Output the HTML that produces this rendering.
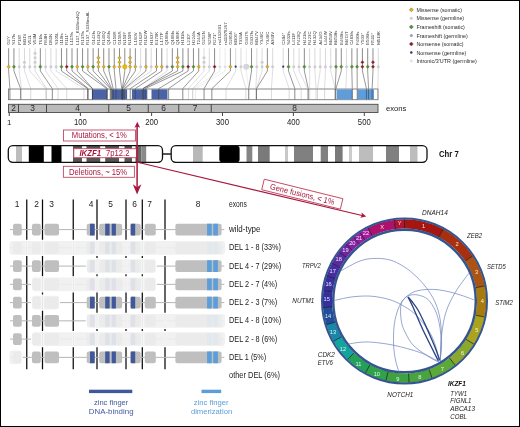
<!DOCTYPE html>
<html><head><meta charset="utf-8"><style>html,body{margin:0;padding:0;background:#fff;}svg{display:block;will-change:transform;}</style></head>
<body><svg width="520" height="427" viewBox="0 0 520 427" font-family="Liberation Sans, sans-serif">
<rect x="0" y="0" width="520" height="427" fill="#fff"/>
<rect x="8.5" y="89" width="369.5" height="10.7" fill="#fff" stroke="#7a7a7a" stroke-width="0.9"/>
<rect x="91.9" y="89.4" width="15.00" height="9.9" fill="#4a63a6"/>
<rect x="111.7" y="89.4" width="15.40" height="9.9" fill="#4a63a6"/>
<rect x="131.9" y="89.4" width="15.40" height="9.9" fill="#4a63a6"/>
<rect x="151.5" y="89.4" width="16.00" height="9.9" fill="#4a63a6"/>
<rect x="337" y="89.4" width="15.50" height="9.9" fill="#5d9ddb"/>
<rect x="357.5" y="89.4" width="16.50" height="9.9" fill="#5d9ddb"/>
<line x1="9.92" y1="89" x2="9.92" y2="99.5" stroke="rgba(60,60,60,0.75)" stroke-width="0.8"/>
<line x1="20.60" y1="89" x2="20.60" y2="99.5" stroke="rgba(60,60,60,0.75)" stroke-width="0.8"/>
<line x1="21.32" y1="89" x2="21.32" y2="99.5" stroke="rgba(140,140,150,0.42)" stroke-width="0.8"/>
<line x1="30.69" y1="89" x2="30.69" y2="99.5" stroke="rgba(140,140,150,0.42)" stroke-width="0.8"/>
<line x1="45.82" y1="89" x2="45.82" y2="99.5" stroke="rgba(140,140,150,0.42)" stroke-width="0.8"/>
<line x1="46.54" y1="89" x2="46.54" y2="99.5" stroke="rgba(140,140,150,0.42)" stroke-width="0.8"/>
<line x1="52.30" y1="89" x2="52.30" y2="99.5" stroke="rgba(60,60,60,0.75)" stroke-width="0.8"/>
<line x1="58.07" y1="89" x2="58.07" y2="99.5" stroke="rgba(140,140,150,0.42)" stroke-width="0.8"/>
<line x1="66.71" y1="89" x2="66.71" y2="99.5" stroke="rgba(140,140,150,0.42)" stroke-width="0.8"/>
<line x1="83.96" y1="89" x2="83.96" y2="99.5" stroke="rgba(140,140,150,0.42)" stroke-width="0.8"/>
<line x1="87.52" y1="89" x2="87.52" y2="99.5" stroke="rgba(60,60,60,0.75)" stroke-width="0.8"/>
<line x1="88.23" y1="89" x2="88.23" y2="99.5" stroke="rgba(60,60,60,0.75)" stroke-width="0.8"/>
<line x1="92.50" y1="89" x2="92.50" y2="99.5" stroke="rgba(60,60,60,0.75)" stroke-width="0.8"/>
<line x1="92.50" y1="89" x2="92.50" y2="99.5" stroke="rgba(60,60,60,0.75)" stroke-width="0.8"/>
<line x1="106.74" y1="89" x2="106.74" y2="99.5" stroke="rgba(60,60,60,0.75)" stroke-width="0.8"/>
<line x1="107.46" y1="89" x2="107.46" y2="99.5" stroke="rgba(60,60,60,0.75)" stroke-width="0.8"/>
<line x1="110.30" y1="89" x2="110.30" y2="99.5" stroke="rgba(60,60,60,0.75)" stroke-width="0.8"/>
<line x1="111.02" y1="89" x2="111.02" y2="99.5" stroke="rgba(60,60,60,0.75)" stroke-width="0.8"/>
<line x1="111.73" y1="89" x2="111.73" y2="99.5" stroke="rgba(60,60,60,0.75)" stroke-width="0.8"/>
<line x1="113.15" y1="89" x2="113.15" y2="99.5" stroke="rgba(60,60,60,0.75)" stroke-width="0.8"/>
<line x1="116.00" y1="89" x2="116.00" y2="99.5" stroke="rgba(60,60,60,0.75)" stroke-width="0.8"/>
<line x1="121.70" y1="89" x2="121.70" y2="99.5" stroke="rgba(60,60,60,0.75)" stroke-width="0.8"/>
<line x1="122.41" y1="89" x2="122.41" y2="99.5" stroke="rgba(60,60,60,0.75)" stroke-width="0.8"/>
<line x1="122.41" y1="89" x2="122.41" y2="99.5" stroke="rgba(60,60,60,0.75)" stroke-width="0.8"/>
<line x1="123.12" y1="89" x2="123.12" y2="99.5" stroke="rgba(60,60,60,0.75)" stroke-width="0.8"/>
<line x1="124.54" y1="89" x2="124.54" y2="99.5" stroke="rgba(140,140,150,0.42)" stroke-width="0.8"/>
<line x1="124.54" y1="89" x2="124.54" y2="99.5" stroke="rgba(60,60,60,0.75)" stroke-width="0.8"/>
<line x1="125.26" y1="89" x2="125.26" y2="99.5" stroke="rgba(140,140,150,0.42)" stroke-width="0.8"/>
<line x1="130.24" y1="89" x2="130.24" y2="99.5" stroke="rgba(60,60,60,0.75)" stroke-width="0.8"/>
<line x1="135.22" y1="89" x2="135.22" y2="99.5" stroke="rgba(60,60,60,0.75)" stroke-width="0.8"/>
<line x1="143.06" y1="89" x2="143.06" y2="99.5" stroke="rgba(140,140,150,0.42)" stroke-width="0.8"/>
<line x1="143.06" y1="89" x2="143.06" y2="99.5" stroke="rgba(60,60,60,0.75)" stroke-width="0.8"/>
<line x1="143.06" y1="89" x2="143.06" y2="99.5" stroke="rgba(60,60,60,0.75)" stroke-width="0.8"/>
<line x1="145.19" y1="89" x2="145.19" y2="99.5" stroke="rgba(60,60,60,0.75)" stroke-width="0.8"/>
<line x1="158.69" y1="89" x2="158.69" y2="99.5" stroke="rgba(60,60,60,0.75)" stroke-width="0.8"/>
<line x1="168.62" y1="89" x2="168.62" y2="99.5" stroke="rgba(60,60,60,0.75)" stroke-width="0.8"/>
<line x1="182.80" y1="89" x2="182.80" y2="99.5" stroke="rgba(60,60,60,0.75)" stroke-width="0.8"/>
<line x1="188.47" y1="89" x2="188.47" y2="99.5" stroke="rgba(140,140,150,0.42)" stroke-width="0.8"/>
<line x1="192.72" y1="89" x2="192.72" y2="99.5" stroke="rgba(140,140,150,0.42)" stroke-width="0.8"/>
<line x1="204.07" y1="89" x2="204.07" y2="99.5" stroke="rgba(60,60,60,0.75)" stroke-width="0.8"/>
<line x1="192.72" y1="89" x2="192.72" y2="99.5" stroke="rgba(170,170,175,0.3)" stroke-width="0.8"/>
<line x1="195.56" y1="89" x2="195.56" y2="99.5" stroke="rgba(170,170,175,0.3)" stroke-width="0.8"/>
<line x1="211.86" y1="89" x2="211.86" y2="99.5" stroke="rgba(60,60,60,0.75)" stroke-width="0.8"/>
<line x1="226.04" y1="89" x2="226.04" y2="99.5" stroke="rgba(140,140,150,0.42)" stroke-width="0.8"/>
<line x1="245.90" y1="89" x2="245.90" y2="99.5" stroke="rgba(140,140,150,0.42)" stroke-width="0.8"/>
<line x1="248.73" y1="89" x2="248.73" y2="99.5" stroke="rgba(170,170,175,0.3)" stroke-width="0.8"/>
<line x1="248.73" y1="89" x2="248.73" y2="99.5" stroke="rgba(60,60,60,0.75)" stroke-width="0.8"/>
<line x1="255.82" y1="89" x2="255.82" y2="99.5" stroke="rgba(140,140,150,0.42)" stroke-width="0.8"/>
<line x1="256.53" y1="89" x2="256.53" y2="99.5" stroke="rgba(140,140,150,0.42)" stroke-width="0.8"/>
<line x1="256.53" y1="89" x2="256.53" y2="99.5" stroke="rgba(60,60,60,0.75)" stroke-width="0.8"/>
<line x1="271.42" y1="89" x2="271.42" y2="99.5" stroke="rgba(140,140,150,0.42)" stroke-width="0.8"/>
<line x1="289.15" y1="89" x2="289.15" y2="99.5" stroke="rgba(140,140,150,0.42)" stroke-width="0.8"/>
<line x1="294.82" y1="89" x2="294.82" y2="99.5" stroke="rgba(60,60,60,0.75)" stroke-width="0.8"/>
<line x1="301.20" y1="89" x2="301.20" y2="99.5" stroke="rgba(140,140,150,0.42)" stroke-width="0.8"/>
<line x1="307.58" y1="89" x2="307.58" y2="99.5" stroke="rgba(140,140,150,0.42)" stroke-width="0.8"/>
<line x1="308.29" y1="89" x2="308.29" y2="99.5" stroke="rgba(60,60,60,0.75)" stroke-width="0.8"/>
<line x1="309.71" y1="89" x2="309.71" y2="99.5" stroke="rgba(140,140,150,0.42)" stroke-width="0.8"/>
<line x1="316.09" y1="89" x2="316.09" y2="99.5" stroke="rgba(140,140,150,0.42)" stroke-width="0.8"/>
<line x1="317.51" y1="89" x2="317.51" y2="99.5" stroke="rgba(140,140,150,0.42)" stroke-width="0.8"/>
<line x1="324.60" y1="89" x2="324.60" y2="99.5" stroke="rgba(140,140,150,0.42)" stroke-width="0.8"/>
<line x1="335.23" y1="89" x2="335.23" y2="99.5" stroke="rgba(140,140,150,0.42)" stroke-width="0.8"/>
<line x1="335.23" y1="89" x2="335.23" y2="99.5" stroke="rgba(60,60,60,0.75)" stroke-width="0.8"/>
<line x1="335.94" y1="89" x2="335.94" y2="99.5" stroke="rgba(60,60,60,0.75)" stroke-width="0.8"/>
<line x1="345.87" y1="89" x2="345.87" y2="99.5" stroke="rgba(140,140,150,0.42)" stroke-width="0.8"/>
<line x1="352.25" y1="89" x2="352.25" y2="99.5" stroke="rgba(60,60,60,0.75)" stroke-width="0.8"/>
<line x1="357.21" y1="89" x2="357.21" y2="99.5" stroke="rgba(60,60,60,0.75)" stroke-width="0.8"/>
<line x1="366.43" y1="89" x2="366.43" y2="99.5" stroke="rgba(60,60,60,0.75)" stroke-width="0.8"/>
<line x1="368.56" y1="89" x2="368.56" y2="99.5" stroke="rgba(60,60,60,0.75)" stroke-width="0.8"/>
<line x1="372.12" y1="89" x2="372.12" y2="99.5" stroke="rgba(60,60,60,0.75)" stroke-width="0.8"/>
<line x1="377.80" y1="89" x2="377.80" y2="99.5" stroke="rgba(140,140,150,0.42)" stroke-width="0.8"/>
<polyline points="8.65,66.70 8.65,71 9.92,88.6" fill="none" stroke="rgba(60,60,60,0.75)" stroke-width="0.7"/>
<polyline points="13.93,66.70 13.93,71 20.60,88.6" fill="none" stroke="rgba(60,60,60,0.75)" stroke-width="0.7"/>
<polyline points="19.21,66.70 19.21,71 21.32,88.6" fill="none" stroke="rgba(140,140,150,0.42)" stroke-width="0.7"/>
<polyline points="24.49,66.70 24.49,71 30.69,88.6" fill="none" stroke="rgba(140,140,150,0.42)" stroke-width="0.7"/>
<polyline points="29.77,66.70 29.77,71 45.82,88.6" fill="none" stroke="rgba(140,140,150,0.42)" stroke-width="0.7"/>
<polyline points="35.05,66.70 35.05,71 46.54,88.6" fill="none" stroke="rgba(140,140,150,0.42)" stroke-width="0.7"/>
<polyline points="40.33,66.70 40.33,71 52.30,88.6" fill="none" stroke="rgba(60,60,60,0.75)" stroke-width="0.7"/>
<polyline points="45.61,66.70 45.61,71 58.07,88.6" fill="none" stroke="rgba(140,140,150,0.42)" stroke-width="0.7"/>
<polyline points="50.89,66.70 50.89,71 66.71,88.6" fill="none" stroke="rgba(140,140,150,0.42)" stroke-width="0.7"/>
<polyline points="56.17,66.70 56.17,71 83.96,88.6" fill="none" stroke="rgba(140,140,150,0.42)" stroke-width="0.7"/>
<polyline points="61.45,66.70 61.45,71 87.52,88.6" fill="none" stroke="rgba(60,60,60,0.75)" stroke-width="0.7"/>
<polyline points="66.73,66.70 66.73,71 88.23,88.6" fill="none" stroke="rgba(60,60,60,0.75)" stroke-width="0.7"/>
<polyline points="72.01,66.70 72.01,71 92.50,88.6" fill="none" stroke="rgba(60,60,60,0.75)" stroke-width="0.7"/>
<polyline points="77.29,66.70 77.29,71 92.50,88.6" fill="none" stroke="rgba(60,60,60,0.75)" stroke-width="0.7"/>
<polyline points="82.57,66.70 82.57,71 106.74,88.6" fill="none" stroke="rgba(60,60,60,0.75)" stroke-width="0.7"/>
<polyline points="87.85,66.70 87.85,71 107.46,88.6" fill="none" stroke="rgba(60,60,60,0.75)" stroke-width="0.7"/>
<polyline points="93.13,66.70 93.13,71 110.30,88.6" fill="none" stroke="rgba(60,60,60,0.75)" stroke-width="0.7"/>
<polyline points="98.41,66.70 98.41,71 111.02,88.6" fill="none" stroke="rgba(60,60,60,0.75)" stroke-width="0.7"/>
<polyline points="103.69,66.70 103.69,71 111.73,88.6" fill="none" stroke="rgba(60,60,60,0.75)" stroke-width="0.7"/>
<polyline points="108.97,66.70 108.97,71 113.15,88.6" fill="none" stroke="rgba(60,60,60,0.75)" stroke-width="0.7"/>
<polyline points="114.25,66.70 114.25,71 116.00,88.6" fill="none" stroke="rgba(60,60,60,0.75)" stroke-width="0.7"/>
<polyline points="119.53,66.70 119.53,71 121.70,88.6" fill="none" stroke="rgba(60,60,60,0.75)" stroke-width="0.7"/>
<polyline points="124.81,66.70 124.81,71 122.41,88.6" fill="none" stroke="rgba(60,60,60,0.75)" stroke-width="0.7"/>
<polyline points="130.09,66.70 130.09,71 122.41,88.6" fill="none" stroke="rgba(60,60,60,0.75)" stroke-width="0.7"/>
<polyline points="135.37,66.70 135.37,71 123.12,88.6" fill="none" stroke="rgba(60,60,60,0.75)" stroke-width="0.7"/>
<polyline points="140.65,66.70 140.65,71 124.54,88.6" fill="none" stroke="rgba(140,140,150,0.42)" stroke-width="0.7"/>
<polyline points="145.93,66.70 145.93,71 124.54,88.6" fill="none" stroke="rgba(60,60,60,0.75)" stroke-width="0.7"/>
<polyline points="151.21,66.70 151.21,71 125.26,88.6" fill="none" stroke="rgba(140,140,150,0.42)" stroke-width="0.7"/>
<polyline points="156.49,66.70 156.49,71 130.24,88.6" fill="none" stroke="rgba(60,60,60,0.75)" stroke-width="0.7"/>
<polyline points="161.77,66.70 161.77,71 135.22,88.6" fill="none" stroke="rgba(60,60,60,0.75)" stroke-width="0.7"/>
<polyline points="167.05,66.70 167.05,71 143.06,88.6" fill="none" stroke="rgba(140,140,150,0.42)" stroke-width="0.7"/>
<polyline points="172.33,66.70 172.33,71 143.06,88.6" fill="none" stroke="rgba(60,60,60,0.75)" stroke-width="0.7"/>
<polyline points="177.61,66.70 177.61,71 143.06,88.6" fill="none" stroke="rgba(60,60,60,0.75)" stroke-width="0.7"/>
<polyline points="182.89,66.70 182.89,71 145.19,88.6" fill="none" stroke="rgba(60,60,60,0.75)" stroke-width="0.7"/>
<polyline points="188.17,66.70 188.17,71 158.69,88.6" fill="none" stroke="rgba(60,60,60,0.75)" stroke-width="0.7"/>
<polyline points="193.45,66.70 193.45,71 168.62,88.6" fill="none" stroke="rgba(60,60,60,0.75)" stroke-width="0.7"/>
<polyline points="198.73,66.70 198.73,71 182.80,88.6" fill="none" stroke="rgba(60,60,60,0.75)" stroke-width="0.7"/>
<polyline points="204.01,66.70 204.01,71 188.47,88.6" fill="none" stroke="rgba(140,140,150,0.42)" stroke-width="0.7"/>
<polyline points="209.29,66.70 209.29,71 192.72,88.6" fill="none" stroke="rgba(140,140,150,0.42)" stroke-width="0.7"/>
<polyline points="214.57,66.70 214.57,71 204.07,88.6" fill="none" stroke="rgba(60,60,60,0.75)" stroke-width="0.7"/>
<polyline points="219.85,66.70 219.85,71 192.72,88.6" fill="none" stroke="rgba(170,170,175,0.3)" stroke-width="0.7"/>
<polyline points="225.13,66.70 225.13,71 195.56,88.6" fill="none" stroke="rgba(170,170,175,0.3)" stroke-width="0.7"/>
<polyline points="230.41,66.70 230.41,71 211.86,88.6" fill="none" stroke="rgba(60,60,60,0.75)" stroke-width="0.7"/>
<polyline points="235.69,66.70 235.69,71 226.04,88.6" fill="none" stroke="rgba(140,140,150,0.42)" stroke-width="0.7"/>
<polyline points="240.97,66.70 240.97,71 245.90,88.6" fill="none" stroke="rgba(140,140,150,0.42)" stroke-width="0.7"/>
<polyline points="246.25,66.70 246.25,71 248.73,88.6" fill="none" stroke="rgba(170,170,175,0.3)" stroke-width="0.7"/>
<polyline points="251.53,66.70 251.53,71 248.73,88.6" fill="none" stroke="rgba(60,60,60,0.75)" stroke-width="0.7"/>
<polyline points="256.81,66.70 256.81,71 255.82,88.6" fill="none" stroke="rgba(140,140,150,0.42)" stroke-width="0.7"/>
<polyline points="262.09,66.70 262.09,71 256.53,88.6" fill="none" stroke="rgba(140,140,150,0.42)" stroke-width="0.7"/>
<polyline points="267.37,66.70 267.37,71 256.53,88.6" fill="none" stroke="rgba(60,60,60,0.75)" stroke-width="0.7"/>
<polyline points="272.65,66.70 272.65,71 271.42,88.6" fill="none" stroke="rgba(140,140,150,0.42)" stroke-width="0.7"/>
<polyline points="283.21,66.70 283.21,71 289.15,88.6" fill="none" stroke="rgba(140,140,150,0.42)" stroke-width="0.7"/>
<polyline points="288.49,66.70 288.49,71 294.82,88.6" fill="none" stroke="rgba(60,60,60,0.75)" stroke-width="0.7"/>
<polyline points="293.77,66.70 293.77,71 301.20,88.6" fill="none" stroke="rgba(140,140,150,0.42)" stroke-width="0.7"/>
<polyline points="299.05,66.70 299.05,71 307.58,88.6" fill="none" stroke="rgba(140,140,150,0.42)" stroke-width="0.7"/>
<polyline points="304.33,66.70 304.33,71 308.29,88.6" fill="none" stroke="rgba(60,60,60,0.75)" stroke-width="0.7"/>
<polyline points="309.61,66.70 309.61,71 309.71,88.6" fill="none" stroke="rgba(140,140,150,0.42)" stroke-width="0.7"/>
<polyline points="314.89,66.70 314.89,71 316.09,88.6" fill="none" stroke="rgba(140,140,150,0.42)" stroke-width="0.7"/>
<polyline points="320.17,66.70 320.17,71 317.51,88.6" fill="none" stroke="rgba(140,140,150,0.42)" stroke-width="0.7"/>
<polyline points="325.45,66.70 325.45,71 324.60,88.6" fill="none" stroke="rgba(140,140,150,0.42)" stroke-width="0.7"/>
<polyline points="330.73,66.70 330.73,71 335.23,88.6" fill="none" stroke="rgba(140,140,150,0.42)" stroke-width="0.7"/>
<polyline points="336.01,66.70 336.01,71 335.23,88.6" fill="none" stroke="rgba(60,60,60,0.75)" stroke-width="0.7"/>
<polyline points="341.29,66.70 341.29,71 335.94,88.6" fill="none" stroke="rgba(60,60,60,0.75)" stroke-width="0.7"/>
<polyline points="346.57,66.70 346.57,71 345.87,88.6" fill="none" stroke="rgba(140,140,150,0.42)" stroke-width="0.7"/>
<polyline points="351.85,66.70 351.85,71 352.25,88.6" fill="none" stroke="rgba(60,60,60,0.75)" stroke-width="0.7"/>
<polyline points="357.13,66.70 357.13,71 357.21,88.6" fill="none" stroke="rgba(60,60,60,0.75)" stroke-width="0.7"/>
<polyline points="362.41,66.70 362.41,71 366.43,88.6" fill="none" stroke="rgba(60,60,60,0.75)" stroke-width="0.7"/>
<polyline points="367.69,66.70 367.69,71 368.56,88.6" fill="none" stroke="rgba(60,60,60,0.75)" stroke-width="0.7"/>
<polyline points="372.97,66.70 372.97,71 372.12,88.6" fill="none" stroke="rgba(60,60,60,0.75)" stroke-width="0.7"/>
<polyline points="378.25,66.70 378.25,71 377.80,88.6" fill="none" stroke="rgba(140,140,150,0.42)" stroke-width="0.7"/>
<line x1="8.65" y1="48.2" x2="8.65" y2="66.70" stroke="rgba(60,60,60,0.75)" stroke-width="0.8"/>
<line x1="13.93" y1="48.2" x2="13.93" y2="66.70" stroke="rgba(60,60,60,0.75)" stroke-width="0.8"/>
<line x1="19.21" y1="48.2" x2="19.21" y2="66.70" stroke="rgba(140,140,150,0.42)" stroke-width="0.8"/>
<line x1="24.49" y1="48.2" x2="24.49" y2="66.70" stroke="rgba(140,140,150,0.42)" stroke-width="0.8"/>
<line x1="29.77" y1="48.2" x2="29.77" y2="66.70" stroke="rgba(140,140,150,0.42)" stroke-width="0.8"/>
<line x1="35.05" y1="48.2" x2="35.05" y2="66.70" stroke="rgba(140,140,150,0.42)" stroke-width="0.8"/>
<line x1="40.33" y1="48.2" x2="40.33" y2="66.70" stroke="rgba(60,60,60,0.75)" stroke-width="0.8"/>
<line x1="45.61" y1="48.2" x2="45.61" y2="66.70" stroke="rgba(140,140,150,0.42)" stroke-width="0.8"/>
<line x1="50.89" y1="48.2" x2="50.89" y2="66.70" stroke="rgba(140,140,150,0.42)" stroke-width="0.8"/>
<line x1="56.17" y1="48.2" x2="56.17" y2="66.70" stroke="rgba(140,140,150,0.42)" stroke-width="0.8"/>
<line x1="61.45" y1="48.2" x2="61.45" y2="66.70" stroke="rgba(60,60,60,0.75)" stroke-width="0.8"/>
<line x1="66.73" y1="48.2" x2="66.73" y2="66.70" stroke="rgba(60,60,60,0.75)" stroke-width="0.8"/>
<line x1="72.01" y1="48.2" x2="72.01" y2="66.70" stroke="rgba(60,60,60,0.75)" stroke-width="0.8"/>
<line x1="77.29" y1="48.2" x2="77.29" y2="66.70" stroke="rgba(60,60,60,0.75)" stroke-width="0.8"/>
<line x1="82.57" y1="48.2" x2="82.57" y2="66.70" stroke="rgba(60,60,60,0.75)" stroke-width="0.8"/>
<line x1="87.85" y1="48.2" x2="87.85" y2="66.70" stroke="rgba(60,60,60,0.75)" stroke-width="0.8"/>
<line x1="93.13" y1="48.2" x2="93.13" y2="66.70" stroke="rgba(60,60,60,0.75)" stroke-width="0.8"/>
<line x1="98.41" y1="48.2" x2="98.41" y2="66.70" stroke="rgba(60,60,60,0.75)" stroke-width="0.8"/>
<line x1="103.69" y1="48.2" x2="103.69" y2="66.70" stroke="rgba(60,60,60,0.75)" stroke-width="0.8"/>
<line x1="108.97" y1="48.2" x2="108.97" y2="66.70" stroke="rgba(60,60,60,0.75)" stroke-width="0.8"/>
<line x1="114.25" y1="48.2" x2="114.25" y2="66.70" stroke="rgba(60,60,60,0.75)" stroke-width="0.8"/>
<line x1="119.53" y1="48.2" x2="119.53" y2="66.70" stroke="rgba(60,60,60,0.75)" stroke-width="0.8"/>
<line x1="124.81" y1="48.2" x2="124.81" y2="66.70" stroke="rgba(60,60,60,0.75)" stroke-width="0.8"/>
<line x1="130.09" y1="48.2" x2="130.09" y2="66.70" stroke="rgba(60,60,60,0.75)" stroke-width="0.8"/>
<line x1="135.37" y1="48.2" x2="135.37" y2="66.70" stroke="rgba(60,60,60,0.75)" stroke-width="0.8"/>
<line x1="140.65" y1="48.2" x2="140.65" y2="66.70" stroke="rgba(140,140,150,0.42)" stroke-width="0.8"/>
<line x1="145.93" y1="48.2" x2="145.93" y2="66.70" stroke="rgba(60,60,60,0.75)" stroke-width="0.8"/>
<line x1="151.21" y1="48.2" x2="151.21" y2="66.70" stroke="rgba(140,140,150,0.42)" stroke-width="0.8"/>
<line x1="156.49" y1="48.2" x2="156.49" y2="66.70" stroke="rgba(60,60,60,0.75)" stroke-width="0.8"/>
<line x1="161.77" y1="48.2" x2="161.77" y2="66.70" stroke="rgba(60,60,60,0.75)" stroke-width="0.8"/>
<line x1="167.05" y1="48.2" x2="167.05" y2="66.70" stroke="rgba(140,140,150,0.42)" stroke-width="0.8"/>
<line x1="172.33" y1="48.2" x2="172.33" y2="66.70" stroke="rgba(60,60,60,0.75)" stroke-width="0.8"/>
<line x1="177.61" y1="48.2" x2="177.61" y2="66.70" stroke="rgba(60,60,60,0.75)" stroke-width="0.8"/>
<line x1="182.89" y1="48.2" x2="182.89" y2="66.70" stroke="rgba(60,60,60,0.75)" stroke-width="0.8"/>
<line x1="188.17" y1="48.2" x2="188.17" y2="66.70" stroke="rgba(60,60,60,0.75)" stroke-width="0.8"/>
<line x1="193.45" y1="48.2" x2="193.45" y2="66.70" stroke="rgba(60,60,60,0.75)" stroke-width="0.8"/>
<line x1="198.73" y1="48.2" x2="198.73" y2="66.70" stroke="rgba(60,60,60,0.75)" stroke-width="0.8"/>
<line x1="204.01" y1="48.2" x2="204.01" y2="66.70" stroke="rgba(140,140,150,0.42)" stroke-width="0.8"/>
<line x1="209.29" y1="48.2" x2="209.29" y2="66.70" stroke="rgba(140,140,150,0.42)" stroke-width="0.8"/>
<line x1="214.57" y1="48.2" x2="214.57" y2="66.70" stroke="rgba(60,60,60,0.75)" stroke-width="0.8"/>
<line x1="219.85" y1="48.2" x2="219.85" y2="66.70" stroke="rgba(170,170,175,0.3)" stroke-width="0.8"/>
<line x1="225.13" y1="48.2" x2="225.13" y2="66.70" stroke="rgba(170,170,175,0.3)" stroke-width="0.8"/>
<line x1="230.41" y1="48.2" x2="230.41" y2="66.70" stroke="rgba(60,60,60,0.75)" stroke-width="0.8"/>
<line x1="235.69" y1="48.2" x2="235.69" y2="66.70" stroke="rgba(140,140,150,0.42)" stroke-width="0.8"/>
<line x1="240.97" y1="48.2" x2="240.97" y2="66.70" stroke="rgba(140,140,150,0.42)" stroke-width="0.8"/>
<line x1="246.25" y1="48.2" x2="246.25" y2="66.70" stroke="rgba(170,170,175,0.3)" stroke-width="0.8"/>
<line x1="251.53" y1="48.2" x2="251.53" y2="66.70" stroke="rgba(60,60,60,0.75)" stroke-width="0.8"/>
<line x1="256.81" y1="48.2" x2="256.81" y2="66.70" stroke="rgba(140,140,150,0.42)" stroke-width="0.8"/>
<line x1="262.09" y1="48.2" x2="262.09" y2="66.70" stroke="rgba(140,140,150,0.42)" stroke-width="0.8"/>
<line x1="267.37" y1="48.2" x2="267.37" y2="66.70" stroke="rgba(60,60,60,0.75)" stroke-width="0.8"/>
<line x1="272.65" y1="48.2" x2="272.65" y2="66.70" stroke="rgba(140,140,150,0.42)" stroke-width="0.8"/>
<line x1="283.21" y1="48.2" x2="283.21" y2="66.70" stroke="rgba(140,140,150,0.42)" stroke-width="0.8"/>
<line x1="288.49" y1="48.2" x2="288.49" y2="66.70" stroke="rgba(60,60,60,0.75)" stroke-width="0.8"/>
<line x1="293.77" y1="48.2" x2="293.77" y2="66.70" stroke="rgba(140,140,150,0.42)" stroke-width="0.8"/>
<line x1="299.05" y1="48.2" x2="299.05" y2="66.70" stroke="rgba(140,140,150,0.42)" stroke-width="0.8"/>
<line x1="304.33" y1="48.2" x2="304.33" y2="66.70" stroke="rgba(60,60,60,0.75)" stroke-width="0.8"/>
<line x1="309.61" y1="48.2" x2="309.61" y2="66.70" stroke="rgba(140,140,150,0.42)" stroke-width="0.8"/>
<line x1="314.89" y1="48.2" x2="314.89" y2="66.70" stroke="rgba(140,140,150,0.42)" stroke-width="0.8"/>
<line x1="320.17" y1="48.2" x2="320.17" y2="66.70" stroke="rgba(140,140,150,0.42)" stroke-width="0.8"/>
<line x1="325.45" y1="48.2" x2="325.45" y2="66.70" stroke="rgba(140,140,150,0.42)" stroke-width="0.8"/>
<line x1="330.73" y1="48.2" x2="330.73" y2="66.70" stroke="rgba(140,140,150,0.42)" stroke-width="0.8"/>
<line x1="336.01" y1="48.2" x2="336.01" y2="66.70" stroke="rgba(60,60,60,0.75)" stroke-width="0.8"/>
<line x1="341.29" y1="48.2" x2="341.29" y2="66.70" stroke="rgba(60,60,60,0.75)" stroke-width="0.8"/>
<line x1="346.57" y1="48.2" x2="346.57" y2="66.70" stroke="rgba(140,140,150,0.42)" stroke-width="0.8"/>
<line x1="351.85" y1="48.2" x2="351.85" y2="66.70" stroke="rgba(60,60,60,0.75)" stroke-width="0.8"/>
<line x1="357.13" y1="48.2" x2="357.13" y2="66.70" stroke="rgba(60,60,60,0.75)" stroke-width="0.8"/>
<line x1="362.41" y1="48.2" x2="362.41" y2="66.70" stroke="rgba(60,60,60,0.75)" stroke-width="0.8"/>
<line x1="367.69" y1="48.2" x2="367.69" y2="66.70" stroke="rgba(60,60,60,0.75)" stroke-width="0.8"/>
<line x1="372.97" y1="48.2" x2="372.97" y2="66.70" stroke="rgba(60,60,60,0.75)" stroke-width="0.8"/>
<line x1="378.25" y1="48.2" x2="378.25" y2="66.70" stroke="rgba(140,140,150,0.42)" stroke-width="0.8"/>
<path d="M8.65,65.00L10.35,66.70L8.65,68.40L6.95,66.70Z" fill="#efb300" stroke="#6a6050" stroke-width="0.35"/>
<path d="M13.93,65.00L15.63,66.70L13.93,68.40L12.23,66.70Z" fill="#4a9a28" stroke="#6a6050" stroke-width="0.35"/>
<circle cx="19.21" cy="66.70" r="1.5" fill="#cdcdd2"/>
<circle cx="24.49" cy="66.70" r="1.5" fill="#cdcdd2"/>
<circle cx="24.49" cy="62.20" r="1.5" fill="#cdcdd2"/>
<circle cx="29.77" cy="66.70" r="1.5" fill="#cdcdd2"/>
<circle cx="35.05" cy="66.70" r="1.5" fill="#cdcdd2"/>
<circle cx="35.05" cy="62.20" r="1.5" fill="#cdcdd2"/>
<circle cx="35.05" cy="57.70" r="1.5" fill="#cdcdd2"/>
<circle cx="35.05" cy="53.20" r="1.5" fill="#cdcdd2"/>
<path d="M40.33,65.00L42.03,66.70L40.33,68.40L38.63,66.70Z" fill="#4a9a28" stroke="#6a6050" stroke-width="0.35"/>
<circle cx="45.61" cy="66.70" r="1.5" fill="#cdcdd2"/>
<circle cx="50.89" cy="66.70" r="1.5" fill="#cdcdd2"/>
<circle cx="56.17" cy="66.70" r="1.5" fill="#cdcdd2"/>
<path d="M61.45,65.00L63.15,66.70L61.45,68.40L59.75,66.70Z" fill="#4a9a28" stroke="#6a6050" stroke-width="0.35"/>
<path d="M66.73,65.00L68.43,66.70L66.73,68.40L65.03,66.70Z" fill="#a3122a" stroke="#6a6050" stroke-width="0.35"/>
<path d="M72.01,65.00L73.71,66.70L72.01,68.40L70.31,66.70Z" fill="#4a9a28" stroke="#6a6050" stroke-width="0.35"/>
<path d="M77.29,65.00L78.99,66.70L77.29,68.40L75.59,66.70Z" fill="#efb300" stroke="#6a6050" stroke-width="0.35"/>
<path d="M82.57,65.00L84.27,66.70L82.57,68.40L80.87,66.70Z" fill="#4a9a28" stroke="#6a6050" stroke-width="0.35"/>
<path d="M87.85,65.00L89.55,66.70L87.85,68.40L86.15,66.70Z" fill="#efb300" stroke="#6a6050" stroke-width="0.35"/>
<path d="M93.13,65.00L94.83,66.70L93.13,68.40L91.43,66.70Z" fill="#4a9a28" stroke="#6a6050" stroke-width="0.35"/>
<path d="M98.41,65.00L100.11,66.70L98.41,68.40L96.71,66.70Z" fill="#efb300" stroke="#6a6050" stroke-width="0.35"/>
<path d="M98.41,60.50L100.11,62.20L98.41,63.90L96.71,62.20Z" fill="#efb300" stroke="#6a6050" stroke-width="0.35"/>
<path d="M98.41,56.00L100.11,57.70L98.41,59.40L96.71,57.70Z" fill="#efb300" stroke="#6a6050" stroke-width="0.35"/>
<path d="M103.69,65.00L105.39,66.70L103.69,68.40L101.99,66.70Z" fill="#efb300" stroke="#6a6050" stroke-width="0.35"/>
<path d="M108.97,65.00L110.67,66.70L108.97,68.40L107.27,66.70Z" fill="#4a9a28" stroke="#6a6050" stroke-width="0.35"/>
<path d="M114.25,65.00L115.95,66.70L114.25,68.40L112.55,66.70Z" fill="#efb300" stroke="#6a6050" stroke-width="0.35"/>
<path d="M119.53,65.00L121.23,66.70L119.53,68.40L117.83,66.70Z" fill="#efb300" stroke="#6a6050" stroke-width="0.35"/>
<path d="M119.53,60.50L121.23,62.20L119.53,63.90L117.83,62.20Z" fill="#efb300" stroke="#6a6050" stroke-width="0.35"/>
<path d="M119.53,56.00L121.23,57.70L119.53,59.40L117.83,57.70Z" fill="#efb300" stroke="#6a6050" stroke-width="0.35"/>
<circle cx="124.81" cy="66.70" r="2.3" fill="#f2b800" stroke="#b08a10" stroke-width="0.3"/>
<path d="M130.09,65.00L131.79,66.70L130.09,68.40L128.39,66.70Z" fill="#efb300" stroke="#6a6050" stroke-width="0.35"/>
<path d="M130.09,60.50L131.79,62.20L130.09,63.90L128.39,62.20Z" fill="#efb300" stroke="#6a6050" stroke-width="0.35"/>
<path d="M130.09,56.00L131.79,57.70L130.09,59.40L128.39,57.70Z" fill="#efb300" stroke="#6a6050" stroke-width="0.35"/>
<path d="M135.37,65.00L137.07,66.70L135.37,68.40L133.67,66.70Z" fill="#efb300" stroke="#6a6050" stroke-width="0.35"/>
<circle cx="140.65" cy="66.70" r="1.5" fill="#cdcdd2"/>
<path d="M145.93,65.00L147.63,66.70L145.93,68.40L144.23,66.70Z" fill="#efb300" stroke="#6a6050" stroke-width="0.35"/>
<circle cx="151.21" cy="66.70" r="1.5" fill="#cdcdd2"/>
<path d="M156.49,65.00L158.19,66.70L156.49,68.40L154.79,66.70Z" fill="#efb300" stroke="#6a6050" stroke-width="0.35"/>
<path d="M161.77,65.00L163.47,66.70L161.77,68.40L160.07,66.70Z" fill="#efb300" stroke="#6a6050" stroke-width="0.35"/>
<circle cx="167.05" cy="66.70" r="1.5" fill="#9c9cbc"/>
<path d="M172.33,65.00L174.03,66.70L172.33,68.40L170.63,66.70Z" fill="#4a9a28" stroke="#6a6050" stroke-width="0.35"/>
<path d="M177.61,65.00L179.31,66.70L177.61,68.40L175.91,66.70Z" fill="#efb300" stroke="#6a6050" stroke-width="0.35"/>
<path d="M177.61,60.50L179.31,62.20L177.61,63.90L175.91,62.20Z" fill="#efb300" stroke="#6a6050" stroke-width="0.35"/>
<path d="M177.61,56.00L179.31,57.70L177.61,59.40L175.91,57.70Z" fill="#efb300" stroke="#6a6050" stroke-width="0.35"/>
<path d="M182.89,65.00L184.59,66.70L182.89,68.40L181.19,66.70Z" fill="#4a9a28" stroke="#6a6050" stroke-width="0.35"/>
<path d="M188.17,65.00L189.87,66.70L188.17,68.40L186.47,66.70Z" fill="#a3122a" stroke="#6a6050" stroke-width="0.35"/>
<path d="M193.45,65.00L195.15,66.70L193.45,68.40L191.75,66.70Z" fill="#4a9a28" stroke="#6a6050" stroke-width="0.35"/>
<path d="M198.73,65.00L200.43,66.70L198.73,68.40L197.03,66.70Z" fill="#efb300" stroke="#6a6050" stroke-width="0.35"/>
<circle cx="204.01" cy="66.70" r="1.5" fill="#cdcdd2"/>
<circle cx="204.01" cy="62.20" r="1.5" fill="#cdcdd2"/>
<circle cx="204.01" cy="57.70" r="1.5" fill="#cdcdd2"/>
<circle cx="209.29" cy="66.70" r="1.5" fill="#cdcdd2"/>
<path d="M214.57,65.00L216.27,66.70L214.57,68.40L212.87,66.70Z" fill="#a3122a" stroke="#6a6050" stroke-width="0.35"/>
<circle cx="219.85" cy="66.70" r="1.5" fill="#e2e2e4"/>
<circle cx="225.13" cy="66.70" r="1.5" fill="#e2e2e4"/>
<path d="M230.41,65.00L232.11,66.70L230.41,68.40L228.71,66.70Z" fill="#efb300" stroke="#6a6050" stroke-width="0.35"/>
<circle cx="235.69" cy="66.70" r="1.1" fill="#2c3466"/>
<circle cx="240.97" cy="66.70" r="1.5" fill="#cdcdd2"/>
<circle cx="246.25" cy="66.70" r="3" fill="#d6d6da"/>
<path d="M251.53,65.00L253.23,66.70L251.53,68.40L249.83,66.70Z" fill="#4a9a28" stroke="#6a6050" stroke-width="0.35"/>
<circle cx="256.81" cy="66.70" r="1.5" fill="#cdcdd2"/>
<circle cx="262.09" cy="66.70" r="1.5" fill="#cdcdd2"/>
<circle cx="262.09" cy="62.20" r="1.5" fill="#cdcdd2"/>
<path d="M267.37,65.00L269.07,66.70L267.37,68.40L265.67,66.70Z" fill="#efb300" stroke="#6a6050" stroke-width="0.35"/>
<circle cx="272.65" cy="66.70" r="1.5" fill="#cdcdd2"/>
<circle cx="283.21" cy="66.70" r="1.1" fill="#2c3466"/>
<path d="M288.49,65.00L290.19,66.70L288.49,68.40L286.79,66.70Z" fill="#4a9a28" stroke="#6a6050" stroke-width="0.35"/>
<circle cx="293.77" cy="66.70" r="1.5" fill="#cdcdd2"/>
<circle cx="299.05" cy="66.70" r="1.5" fill="#cdcdd2"/>
<path d="M304.33,65.00L306.03,66.70L304.33,68.40L302.63,66.70Z" fill="#4a9a28" stroke="#6a6050" stroke-width="0.35"/>
<circle cx="309.61" cy="66.70" r="1.5" fill="#cdcdd2"/>
<circle cx="314.89" cy="66.70" r="1.5" fill="#cdcdd2"/>
<circle cx="320.17" cy="66.70" r="1.5" fill="#cdcdd2"/>
<circle cx="325.45" cy="66.70" r="1.5" fill="#cdcdd2"/>
<circle cx="330.73" cy="66.70" r="1.5" fill="#cdcdd2"/>
<path d="M336.01,65.00L337.71,66.70L336.01,68.40L334.31,66.70Z" fill="#4a9a28" stroke="#6a6050" stroke-width="0.35"/>
<path d="M341.29,65.00L342.99,66.70L341.29,68.40L339.59,66.70Z" fill="#4a9a28" stroke="#6a6050" stroke-width="0.35"/>
<circle cx="346.57" cy="66.70" r="1.5" fill="#cdcdd2"/>
<path d="M351.85,65.00L353.55,66.70L351.85,68.40L350.15,66.70Z" fill="#4a9a28" stroke="#6a6050" stroke-width="0.35"/>
<path d="M357.13,65.00L358.83,66.70L357.13,68.40L355.43,66.70Z" fill="#4a9a28" stroke="#6a6050" stroke-width="0.35"/>
<path d="M362.41,65.00L364.11,66.70L362.41,68.40L360.71,66.70Z" fill="#a3122a" stroke="#6a6050" stroke-width="0.35"/>
<path d="M362.41,60.50L364.11,62.20L362.41,63.90L360.71,62.20Z" fill="#a3122a" stroke="#6a6050" stroke-width="0.35"/>
<path d="M367.69,65.00L369.39,66.70L367.69,68.40L365.99,66.70Z" fill="#4a9a28" stroke="#6a6050" stroke-width="0.35"/>
<path d="M372.97,65.00L374.67,66.70L372.97,68.40L371.27,66.70Z" fill="#a3122a" stroke="#6a6050" stroke-width="0.35"/>
<path d="M372.97,60.50L374.67,62.20L372.97,63.90L371.27,62.20Z" fill="#a3122a" stroke="#6a6050" stroke-width="0.35"/>
<circle cx="378.25" cy="66.70" r="1.5" fill="#cdcdd2"/>
<g font-family="Liberation Sans"><text transform="translate(10.05,44.8) rotate(-90)" font-size="4.3" fill="#404040">G2Y</text>
<text transform="translate(15.33,44.8) rotate(-90)" font-size="4.3" fill="#404040">S17fs</text>
<text transform="translate(20.61,44.8) rotate(-90)" font-size="4.3" fill="#404040">P18T</text>
<text transform="translate(25.89,44.8) rotate(-90)" font-size="4.3" fill="#404040">M31V</text>
<text transform="translate(31.17,44.8) rotate(-90)" font-size="4.3" fill="#404040">V52L</text>
<text transform="translate(36.45,44.8) rotate(-90)" font-size="4.3" fill="#404040">V53M</text>
<text transform="translate(41.73,44.8) rotate(-90)" font-size="4.3" fill="#404040">T61fs</text>
<text transform="translate(47.01,44.8) rotate(-90)" font-size="4.3" fill="#404040">R69H</text>
<text transform="translate(52.29,44.8) rotate(-90)" font-size="4.3" fill="#404040">D81N</text>
<text transform="translate(57.57,44.8) rotate(-90)" font-size="4.3" fill="#404040">S105L</text>
<text transform="translate(62.85,44.8) rotate(-90)" font-size="4.3" fill="#404040">I110fs</text>
<text transform="translate(68.13,44.8) rotate(-90)" font-size="4.3" fill="#404040">R111*</text>
<text transform="translate(73.41,44.8) rotate(-90)" font-size="4.3" fill="#404040">L117fs</text>
<text transform="translate(78.69,44.8) rotate(-90)" font-size="4.3" fill="#404040">L117_K118insNQ</text>
<text transform="translate(83.97,44.8) rotate(-90)" font-size="4.3" fill="#404040">R137fs</text>
<text transform="translate(89.25,44.8) rotate(-90)" font-size="4.3" fill="#404040">R137_S138insAL</text>
<text transform="translate(94.53,44.8) rotate(-90)" font-size="4.3" fill="#404040">G142fs</text>
<text transform="translate(99.81,44.8) rotate(-90)" font-size="4.3" fill="#404040">R143Q</text>
<text transform="translate(105.09,44.8) rotate(-90)" font-size="4.3" fill="#404040">R140Q</text>
<text transform="translate(110.37,44.8) rotate(-90)" font-size="4.3" fill="#404040">Q146fs</text>
<text transform="translate(115.65,44.8) rotate(-90)" font-size="4.3" fill="#404040">C150R</text>
<text transform="translate(120.93,44.8) rotate(-90)" font-size="4.3" fill="#404040">G158S</text>
<text transform="translate(126.21,44.8) rotate(-90)" font-size="4.3" fill="#404040">N159Y</text>
<text transform="translate(131.49,44.8) rotate(-90)" font-size="4.3" fill="#404040">N159S</text>
<text transform="translate(136.77,44.8) rotate(-90)" font-size="4.3" fill="#404040">L160V</text>
<text transform="translate(142.05,44.8) rotate(-90)" font-size="4.3" fill="#404040">R162P</text>
<text transform="translate(147.33,44.8) rotate(-90)" font-size="4.3" fill="#404040">R162W</text>
<text transform="translate(152.61,44.8) rotate(-90)" font-size="4.3" fill="#404040">H163Y</text>
<text transform="translate(157.89,44.8) rotate(-90)" font-size="4.3" fill="#404040">E170K</text>
<text transform="translate(163.17,44.8) rotate(-90)" font-size="4.3" fill="#404040">L177P</text>
<text transform="translate(168.45,44.8) rotate(-90)" font-size="4.3" fill="#404040">Q188fs</text>
<text transform="translate(173.73,44.8) rotate(-90)" font-size="4.3" fill="#404040">Q188fs</text>
<text transform="translate(179.01,44.8) rotate(-90)" font-size="4.3" fill="#404040">Q188R</text>
<text transform="translate(184.29,44.8) rotate(-90)" font-size="4.3" fill="#404040">H191fs</text>
<text transform="translate(189.57,44.8) rotate(-90)" font-size="4.3" fill="#404040">L210*</text>
<text transform="translate(194.85,44.8) rotate(-90)" font-size="4.3" fill="#404040">H224fs</text>
<text transform="translate(200.13,44.8) rotate(-90)" font-size="4.3" fill="#404040">T244A</text>
<text transform="translate(205.41,44.8) rotate(-90)" font-size="4.3" fill="#404040">G252N</text>
<text transform="translate(210.69,44.8) rotate(-90)" font-size="4.3" fill="#404040">S258P</text>
<text transform="translate(215.97,44.8) rotate(-90)" font-size="4.3" fill="#404040">R271*</text>
<text transform="translate(221.25,44.8) rotate(-90)" font-size="4.3" fill="#404040">rs4132601</text>
<text transform="translate(226.53,44.8) rotate(-90)" font-size="4.3" fill="#404040">rs11978267</text>
<text transform="translate(231.81,44.8) rotate(-90)" font-size="4.3" fill="#404040">G285N</text>
<text transform="translate(237.09,44.8) rotate(-90)" font-size="4.3" fill="#404040">M306*</text>
<text transform="translate(242.37,44.8) rotate(-90)" font-size="4.3" fill="#404040">T333A</text>
<text transform="translate(247.65,44.8) rotate(-90)" font-size="4.3" fill="#404040">G337S</text>
<text transform="translate(252.93,44.8) rotate(-90)" font-size="4.3" fill="#404040">G337fs</text>
<text transform="translate(258.21,44.8) rotate(-90)" font-size="4.3" fill="#404040">M347V</text>
<text transform="translate(263.49,44.8) rotate(-90)" font-size="4.3" fill="#404040">Y348C</text>
<text transform="translate(268.77,44.8) rotate(-90)" font-size="4.3" fill="#404040">Y348C</text>
<text transform="translate(274.05,44.8) rotate(-90)" font-size="4.3" fill="#404040">A369V</text>
<text transform="translate(284.61,44.8) rotate(-90)" font-size="4.3" fill="#404040">C394*</text>
<text transform="translate(289.89,44.8) rotate(-90)" font-size="4.3" fill="#404040">S402fs</text>
<text transform="translate(295.17,44.8) rotate(-90)" font-size="4.3" fill="#404040">L411F</text>
<text transform="translate(300.45,44.8) rotate(-90)" font-size="4.3" fill="#404040">P420Q</text>
<text transform="translate(305.73,44.8) rotate(-90)" font-size="4.3" fill="#404040">H421fs</text>
<text transform="translate(311.01,44.8) rotate(-90)" font-size="4.3" fill="#404040">R423C</text>
<text transform="translate(316.29,44.8) rotate(-90)" font-size="4.3" fill="#404040">H432Q</text>
<text transform="translate(321.57,44.8) rotate(-90)" font-size="4.3" fill="#404040">A434G</text>
<text transform="translate(326.85,44.8) rotate(-90)" font-size="4.3" fill="#404040">L444W</text>
<text transform="translate(332.13,44.8) rotate(-90)" font-size="4.3" fill="#404040">M459V</text>
<text transform="translate(337.41,44.8) rotate(-90)" font-size="4.3" fill="#404040">M459fs</text>
<text transform="translate(342.69,44.8) rotate(-90)" font-size="4.3" fill="#404040">E460fs</text>
<text transform="translate(347.97,44.8) rotate(-90)" font-size="4.3" fill="#404040">M474T</text>
<text transform="translate(353.25,44.8) rotate(-90)" font-size="4.3" fill="#404040">C483fs</text>
<text transform="translate(358.53,44.8) rotate(-90)" font-size="4.3" fill="#404040">F490fs</text>
<text transform="translate(363.81,44.8) rotate(-90)" font-size="4.3" fill="#404040">Y503*</text>
<text transform="translate(369.09,44.8) rotate(-90)" font-size="4.3" fill="#404040">E506fs</text>
<text transform="translate(374.37,44.8) rotate(-90)" font-size="4.3" fill="#404040">R511*</text>
<text transform="translate(379.65,44.8) rotate(-90)" font-size="4.3" fill="#404040">M519K</text></g>
<rect x="8.5" y="104.3" width="369.5" height="8.2" fill="#bababa" stroke="#4a4a4a" stroke-width="0.9"/>
<line x1="18.5" y1="104.3" x2="18.5" y2="112.5" stroke="#3a3a3a" stroke-width="0.9"/>
<line x1="46.5" y1="104.3" x2="46.5" y2="112.5" stroke="#3a3a3a" stroke-width="0.9"/>
<line x1="108.75" y1="104.3" x2="108.75" y2="112.5" stroke="#3a3a3a" stroke-width="0.9"/>
<line x1="148.25" y1="104.3" x2="148.25" y2="112.5" stroke="#3a3a3a" stroke-width="0.9"/>
<line x1="178.75" y1="104.3" x2="178.75" y2="112.5" stroke="#3a3a3a" stroke-width="0.9"/>
<line x1="211.25" y1="104.3" x2="211.25" y2="112.5" stroke="#3a3a3a" stroke-width="0.9"/>
<text x="13.50" y="111.00" font-size="8.4" text-anchor="middle" fill="#2a2a2a" font-weight="normal" font-style="normal" font-family="Liberation Sans">2</text>
<text x="32.50" y="111.00" font-size="8.4" text-anchor="middle" fill="#2a2a2a" font-weight="normal" font-style="normal" font-family="Liberation Sans">3</text>
<text x="77.50" y="111.00" font-size="8.4" text-anchor="middle" fill="#2a2a2a" font-weight="normal" font-style="normal" font-family="Liberation Sans">4</text>
<text x="128.50" y="111.00" font-size="8.4" text-anchor="middle" fill="#2a2a2a" font-weight="normal" font-style="normal" font-family="Liberation Sans">5</text>
<text x="163.50" y="111.00" font-size="8.4" text-anchor="middle" fill="#2a2a2a" font-weight="normal" font-style="normal" font-family="Liberation Sans">6</text>
<text x="195.00" y="111.00" font-size="8.4" text-anchor="middle" fill="#2a2a2a" font-weight="normal" font-style="normal" font-family="Liberation Sans">7</text>
<text x="294.50" y="111.00" font-size="8.4" text-anchor="middle" fill="#2a2a2a" font-weight="normal" font-style="normal" font-family="Liberation Sans">8</text>
<text x="386.00" y="111.10" font-size="8.0" text-anchor="start" fill="#222" font-weight="normal" font-style="normal" textLength="20.4" lengthAdjust="spacingAndGlyphs" font-family="Liberation Sans">exons</text>
<line x1="9.25" y1="112.8" x2="9.25" y2="116" stroke="#333" stroke-width="0.9"/>
<text x="9.25" y="125.05" font-size="7.8" text-anchor="middle" fill="#222" font-weight="normal" font-style="normal" font-family="Liberation Sans">1</text>
<line x1="80.40" y1="112.8" x2="80.40" y2="116" stroke="#333" stroke-width="0.9"/>
<text x="80.40" y="125.05" font-size="8.2" text-anchor="middle" fill="#222" font-weight="normal" font-style="normal" textLength="12.9" lengthAdjust="spacingAndGlyphs" font-family="Liberation Sans">100</text>
<line x1="151.60" y1="112.8" x2="151.60" y2="116" stroke="#333" stroke-width="0.9"/>
<text x="151.60" y="125.05" font-size="8.2" text-anchor="middle" fill="#222" font-weight="normal" font-style="normal" textLength="12.9" lengthAdjust="spacingAndGlyphs" font-family="Liberation Sans">200</text>
<line x1="222.50" y1="112.8" x2="222.50" y2="116" stroke="#333" stroke-width="0.9"/>
<text x="222.50" y="125.05" font-size="8.2" text-anchor="middle" fill="#222" font-weight="normal" font-style="normal" textLength="12.9" lengthAdjust="spacingAndGlyphs" font-family="Liberation Sans">300</text>
<line x1="293.40" y1="112.8" x2="293.40" y2="116" stroke="#333" stroke-width="0.9"/>
<text x="293.40" y="125.05" font-size="8.2" text-anchor="middle" fill="#222" font-weight="normal" font-style="normal" textLength="12.9" lengthAdjust="spacingAndGlyphs" font-family="Liberation Sans">400</text>
<line x1="364.30" y1="112.8" x2="364.30" y2="116" stroke="#333" stroke-width="0.9"/>
<text x="364.30" y="125.05" font-size="8.2" text-anchor="middle" fill="#222" font-weight="normal" font-style="normal" textLength="12.9" lengthAdjust="spacingAndGlyphs" font-family="Liberation Sans">500</text>
<path d="M411.3,7.80L413.3,9.80L411.3,11.80L409.3,9.80Z" fill="#efb300" stroke="#555566" stroke-width="0.45"/>
<text x="416.50" y="11.90" font-size="6.0" text-anchor="start" fill="#2a2a2a" font-weight="normal" font-style="normal" textLength="45.4" lengthAdjust="spacingAndGlyphs" font-family="Liberation Sans">Missense (somatic)</text>
<circle cx="411.3" cy="18.35" r="1.5" fill="#cdcdd2"/>
<text x="416.50" y="20.45" font-size="6.0" text-anchor="start" fill="#2a2a2a" font-weight="normal" font-style="normal" textLength="47.6" lengthAdjust="spacingAndGlyphs" font-family="Liberation Sans">Missense (germline)</text>
<path d="M411.3,24.90L413.3,26.90L411.3,28.90L409.3,26.90Z" fill="#4a9a28" stroke="#555566" stroke-width="0.45"/>
<text x="416.50" y="29.00" font-size="6.0" text-anchor="start" fill="#2a2a2a" font-weight="normal" font-style="normal" textLength="48.4" lengthAdjust="spacingAndGlyphs" font-family="Liberation Sans">Frameshift (somatic)</text>
<circle cx="411.3" cy="35.45" r="1.5" fill="#9c9cbc"/>
<text x="416.50" y="37.55" font-size="6.0" text-anchor="start" fill="#2a2a2a" font-weight="normal" font-style="normal" textLength="51.199999999999996" lengthAdjust="spacingAndGlyphs" font-family="Liberation Sans">Frameshift (germline)</text>
<path d="M411.3,42.00L413.3,44.00L411.3,46.00L409.3,44.00Z" fill="#a3122a" stroke="#555566" stroke-width="0.45"/>
<text x="416.50" y="46.10" font-size="6.0" text-anchor="start" fill="#2a2a2a" font-weight="normal" font-style="normal" textLength="47.1" lengthAdjust="spacingAndGlyphs" font-family="Liberation Sans">Nonsense (somatic)</text>
<circle cx="411.3" cy="52.55" r="1.2" fill="#2c3466"/>
<text x="416.50" y="54.65" font-size="6.0" text-anchor="start" fill="#2a2a2a" font-weight="normal" font-style="normal" textLength="49.699999999999996" lengthAdjust="spacingAndGlyphs" font-family="Liberation Sans">Nonsense (germline)</text>
<circle cx="411.3" cy="61.10" r="1.5" fill="#e2e2e4"/>
<text x="416.50" y="63.20" font-size="6.0" text-anchor="start" fill="#2a2a2a" font-weight="normal" font-style="normal" textLength="60.4" lengthAdjust="spacingAndGlyphs" font-family="Liberation Sans">Intronic/3'UTR (germline)</text>
<defs><clipPath id="parm"><rect x="8.3" y="145.7" width="154.2" height="16.6" rx="4.5"/></clipPath><clipPath id="qarm"><rect x="171.2" y="145.7" width="255.8" height="16.6" rx="4.5"/></clipPath></defs>
<g clip-path="url(#parm)"><rect x="8" y="145" width="160" height="18" fill="#fff"/>
<rect x="16" y="145" width="6.00" height="18" fill="#bdbdbd"/>
<rect x="28.8" y="145" width="15.00" height="18" fill="#000"/>
<rect x="51.5" y="145" width="10.00" height="18" fill="#000"/>
<rect x="73" y="145" width="64.00" height="18" fill="#555555"/>
<rect x="137" y="145" width="4.50" height="18" fill="#666666"/>
<rect x="141.5" y="145" width="4.70" height="18" fill="#8a8a8a"/>
<rect x="82" y="145" width="4.50" height="18" fill="#fff"/>
<rect x="100.2" y="145" width="5.00" height="18" fill="#fff"/>
<rect x="119" y="145" width="5.50" height="18" fill="#fff"/>
<rect x="132" y="145" width="3.50" height="18" fill="#fff"/>
</g>
<g clip-path="url(#qarm)"><rect x="170" y="145" width="260" height="18" fill="#fff"/>
<rect x="193" y="145.7" width="9.70" height="16.6" fill="#b8b8b8"/>
<rect x="219.3" y="145.7" width="20.30" height="16.6" fill="#000" rx="3"/>
<rect x="246.5" y="145.7" width="5.80" height="16.6" fill="#858585"/>
<rect x="258" y="145.7" width="11.70" height="16.6" fill="#7a7a7a"/>
<rect x="285" y="145.7" width="3.00" height="16.6" fill="#c8c8c8"/>
<rect x="294" y="145.7" width="19.00" height="16.6" fill="#808080"/>
<rect x="320.7" y="145.7" width="7.30" height="16.6" fill="#808080"/>
<rect x="335" y="145.7" width="7.60" height="16.6" fill="#7a7a7a"/>
<rect x="349" y="145.7" width="3.00" height="16.6" fill="#cccccc"/>
<rect x="359" y="145.7" width="14.00" height="16.6" fill="#bdbdbd"/>
<rect x="386" y="145.7" width="13.00" height="16.6" fill="#808080"/>
<rect x="410" y="145.7" width="7.50" height="16.6" fill="#bdbdbd"/>
</g>
<rect x="8.3" y="145.7" width="154.2" height="16.6" rx="4.5" fill="none" stroke="#111" stroke-width="1.3"/>
<rect x="171.2" y="145.7" width="255.8" height="16.6" rx="4.5" fill="none" stroke="#111" stroke-width="1.3"/>
<line x1="162.5" y1="154" x2="171.2" y2="154" stroke="#111" stroke-width="1.4"/>
<text x="439.00" y="156.60" font-size="8.2" text-anchor="start" fill="#111" font-weight="bold" font-style="normal" textLength="19.8" lengthAdjust="spacingAndGlyphs" font-family="Liberation Sans">Chr 7</text>
<rect x="63.5" y="130" width="72" height="11" fill="#fff" stroke="#c24862" stroke-width="0.9"/>
<text x="99.30" y="137.90" font-size="8.2" text-anchor="middle" fill="#a8173e" font-weight="normal" font-style="normal" textLength="55" lengthAdjust="spacingAndGlyphs" font-family="Liberation Sans">Mutations, &lt; 1%</text>
<rect x="73.8" y="148.7" width="62.6" height="9" fill="#fff" stroke="#c24862" stroke-width="0.9"/>
<text x="79.40" y="156.40" font-size="8.2" text-anchor="start" fill="#a8173e" font-weight="bold" font-style="italic" textLength="21.6" lengthAdjust="spacingAndGlyphs" font-family="Liberation Sans">IKZF1</text>
<text x="106.10" y="156.40" font-size="8.2" text-anchor="start" fill="#a8173e" font-weight="normal" font-style="normal" textLength="23.4" lengthAdjust="spacingAndGlyphs" font-family="Liberation Sans">7p12.2</text>
<rect x="63.4" y="166.3" width="71" height="11" fill="#fff" stroke="#c24862" stroke-width="0.9"/>
<text x="98.05" y="174.70" font-size="8.2" text-anchor="middle" fill="#a8173e" font-weight="normal" font-style="normal" textLength="58" lengthAdjust="spacingAndGlyphs" font-family="Liberation Sans">Deletions, ~ 15%</text>
<line x1="137.1" y1="126" x2="137.1" y2="187" stroke="#a8173e" stroke-width="1.5"/>
<path d="M137.3,121.8 L140.1,127.8 L137.3,126.6 L134.5,127.8 Z" fill="#a8173e"/>
<path d="M137.1,194.4 L141.4,184.2 L137.1,187.2 L132.8,184.2 Z" fill="#a8173e"/>
<line x1="137.5" y1="162.3" x2="362" y2="215.5" stroke="#a8173e" stroke-width="1.1"/>
<g transform="translate(366.2,216.4) rotate(13.32)"><path d="M0,0 L-5.5,-2.6 L-4.3,0 L-5.5,2.6 Z" fill="#a8173e"/></g>
<g transform="translate(302.3,194.2) rotate(13.92)"><rect x="-40.5" y="-5.4" width="81" height="10.8" fill="#fff" stroke="#c24862" stroke-width="0.9"/><text x="0.00" y="2.80" font-size="8.2" text-anchor="middle" fill="#a8173e" font-weight="normal" font-style="normal" textLength="66" lengthAdjust="spacingAndGlyphs" font-family="Liberation Sans">Gene fusions, &lt; 1%</text></g>
<line x1="26.75" y1="199.5" x2="26.75" y2="369.3" stroke="#0a0a0a" stroke-width="1.25"/>
<line x1="42.5" y1="199.5" x2="42.5" y2="369.3" stroke="#0a0a0a" stroke-width="1.25"/>
<line x1="73.25" y1="199.5" x2="73.25" y2="369.3" stroke="#0a0a0a" stroke-width="1.25"/>
<line x1="97" y1="199.5" x2="97" y2="369.3" stroke="#0a0a0a" stroke-width="1.25"/>
<line x1="126" y1="199.5" x2="126" y2="369.3" stroke="#0a0a0a" stroke-width="1.25"/>
<line x1="142.3" y1="199.5" x2="142.3" y2="369.3" stroke="#0a0a0a" stroke-width="1.25"/>
<line x1="165" y1="199.5" x2="165" y2="369.3" stroke="#0a0a0a" stroke-width="1.25"/>
<text x="17.00" y="207.20" font-size="8.4" text-anchor="middle" fill="#222" font-weight="normal" font-style="normal" font-family="Liberation Sans">1</text>
<text x="36.50" y="207.20" font-size="8.4" text-anchor="middle" fill="#222" font-weight="normal" font-style="normal" font-family="Liberation Sans">2</text>
<text x="51.50" y="207.20" font-size="8.4" text-anchor="middle" fill="#222" font-weight="normal" font-style="normal" font-family="Liberation Sans">3</text>
<text x="91.00" y="207.20" font-size="8.4" text-anchor="middle" fill="#222" font-weight="normal" font-style="normal" font-family="Liberation Sans">4</text>
<text x="110.50" y="207.20" font-size="8.4" text-anchor="middle" fill="#222" font-weight="normal" font-style="normal" font-family="Liberation Sans">5</text>
<text x="134.50" y="207.20" font-size="8.4" text-anchor="middle" fill="#222" font-weight="normal" font-style="normal" font-family="Liberation Sans">6</text>
<text x="149.50" y="207.20" font-size="8.4" text-anchor="middle" fill="#222" font-weight="normal" font-style="normal" font-family="Liberation Sans">7</text>
<text x="198.00" y="207.20" font-size="8.4" text-anchor="middle" fill="#222" font-weight="normal" font-style="normal" font-family="Liberation Sans">8</text>
<text x="229.00" y="207.10" font-size="8.2" text-anchor="start" fill="#222" font-weight="normal" font-style="normal" textLength="17.8" lengthAdjust="spacingAndGlyphs" font-family="Liberation Sans">exons</text>
<line x1="10" y1="229.60" x2="224.3" y2="229.60" stroke="#b5b5b5" stroke-width="1"/>
<rect x="13" y="223.70" width="8.75" height="11.8" rx="2" fill="#bfbfbf"/>
<rect x="32" y="223.70" width="8.75" height="11.8" rx="2" fill="#bfbfbf"/>
<rect x="44.5" y="223.70" width="14.50" height="11.8" rx="2" fill="#bfbfbf"/>
<rect x="86.7" y="223.70" width="8.10" height="11.8" rx="2" fill="#bfbfbf"/>
<rect x="99.2" y="223.70" width="22.90" height="11.8" rx="2" fill="#bfbfbf"/>
<rect x="130.1" y="223.70" width="10.60" height="11.8" rx="2" fill="#bfbfbf"/>
<rect x="144.8" y="223.70" width="11.00" height="11.8" rx="2" fill="#bfbfbf"/>
<rect x="175.4" y="223.70" width="46.20" height="11.8" rx="2" fill="#bfbfbf"/>
<rect x="90" y="223.70" width="4.70" height="11.8" fill="#41599b"/>
<rect x="105.2" y="223.70" width="4.40" height="11.8" fill="#41599b"/>
<rect x="111.7" y="223.70" width="4.20" height="11.8" fill="#41599b"/>
<rect x="130.8" y="223.70" width="4.40" height="11.8" fill="#41599b"/>
<rect x="207.1" y="223.70" width="4.65" height="11.8" fill="#5b9ed9"/>
<rect x="213.25" y="223.70" width="4.65" height="11.8" fill="#5b9ed9"/>
<text x="229.00" y="232.20" font-size="8.2" text-anchor="start" fill="#222" font-weight="normal" font-style="normal" textLength="31.5" lengthAdjust="spacingAndGlyphs" font-family="Liberation Sans">wild-type</text>
<line x1="10" y1="247.85" x2="224.3" y2="247.85" stroke="#b5b5b5" stroke-width="1"/>
<rect x="13" y="241.95" width="8.75" height="11.8" rx="2" fill="#bfbfbf"/>
<rect x="32" y="241.95" width="8.75" height="11.8" rx="2" fill="#bfbfbf"/>
<rect x="44.5" y="241.95" width="14.50" height="11.8" rx="2" fill="#bfbfbf"/>
<rect x="86.7" y="241.95" width="8.10" height="11.8" rx="2" fill="#bfbfbf"/>
<rect x="99.2" y="241.95" width="22.90" height="11.8" rx="2" fill="#bfbfbf"/>
<rect x="130.1" y="241.95" width="10.60" height="11.8" rx="2" fill="#bfbfbf"/>
<rect x="144.8" y="241.95" width="11.00" height="11.8" rx="2" fill="#bfbfbf"/>
<rect x="175.4" y="241.95" width="46.20" height="11.8" rx="2" fill="#bfbfbf"/>
<rect x="90" y="241.95" width="4.70" height="11.8" fill="#41599b"/>
<rect x="105.2" y="241.95" width="4.40" height="11.8" fill="#41599b"/>
<rect x="111.7" y="241.95" width="4.20" height="11.8" fill="#41599b"/>
<rect x="130.8" y="241.95" width="4.40" height="11.8" fill="#41599b"/>
<rect x="207.1" y="241.95" width="4.65" height="11.8" fill="#5b9ed9"/>
<rect x="213.25" y="241.95" width="4.65" height="11.8" fill="#5b9ed9"/>
<rect x="9.0" y="240.35" width="216.50" height="15" rx="3" fill="#f0f0f0" fill-opacity="0.9" stroke="#fff" stroke-width="1.1"/>
<line x1="26.75" y1="240.85" x2="26.75" y2="254.85" stroke="#fbfbfb" stroke-width="2.4"/>
<line x1="26.75" y1="240.85" x2="26.75" y2="254.85" stroke="#dedede" stroke-width="0.7"/>
<line x1="42.5" y1="240.85" x2="42.5" y2="254.85" stroke="#fbfbfb" stroke-width="2.4"/>
<line x1="42.5" y1="240.85" x2="42.5" y2="254.85" stroke="#dedede" stroke-width="0.7"/>
<line x1="73.25" y1="240.85" x2="73.25" y2="254.85" stroke="#fbfbfb" stroke-width="2.4"/>
<line x1="73.25" y1="240.85" x2="73.25" y2="254.85" stroke="#dedede" stroke-width="0.7"/>
<line x1="97" y1="240.85" x2="97" y2="254.85" stroke="#fbfbfb" stroke-width="2.4"/>
<line x1="97" y1="240.85" x2="97" y2="254.85" stroke="#dedede" stroke-width="0.7"/>
<line x1="126" y1="240.85" x2="126" y2="254.85" stroke="#fbfbfb" stroke-width="2.4"/>
<line x1="126" y1="240.85" x2="126" y2="254.85" stroke="#dedede" stroke-width="0.7"/>
<line x1="142.3" y1="240.85" x2="142.3" y2="254.85" stroke="#fbfbfb" stroke-width="2.4"/>
<line x1="142.3" y1="240.85" x2="142.3" y2="254.85" stroke="#dedede" stroke-width="0.7"/>
<line x1="165" y1="240.85" x2="165" y2="254.85" stroke="#fbfbfb" stroke-width="2.4"/>
<line x1="165" y1="240.85" x2="165" y2="254.85" stroke="#dedede" stroke-width="0.7"/>
<text x="229.00" y="250.45" font-size="8.2" text-anchor="start" fill="#222" font-weight="normal" font-style="normal" textLength="51.9" lengthAdjust="spacingAndGlyphs" font-family="Liberation Sans">DEL 1 - 8 (33%)</text>
<line x1="10" y1="266.10" x2="224.3" y2="266.10" stroke="#b5b5b5" stroke-width="1"/>
<rect x="13" y="260.20" width="8.75" height="11.8" rx="2" fill="#bfbfbf"/>
<rect x="32" y="260.20" width="8.75" height="11.8" rx="2" fill="#bfbfbf"/>
<rect x="44.5" y="260.20" width="14.50" height="11.8" rx="2" fill="#bfbfbf"/>
<rect x="86.7" y="260.20" width="8.10" height="11.8" rx="2" fill="#bfbfbf"/>
<rect x="99.2" y="260.20" width="22.90" height="11.8" rx="2" fill="#bfbfbf"/>
<rect x="130.1" y="260.20" width="10.60" height="11.8" rx="2" fill="#bfbfbf"/>
<rect x="144.8" y="260.20" width="11.00" height="11.8" rx="2" fill="#bfbfbf"/>
<rect x="175.4" y="260.20" width="46.20" height="11.8" rx="2" fill="#bfbfbf"/>
<rect x="90" y="260.20" width="4.70" height="11.8" fill="#41599b"/>
<rect x="105.2" y="260.20" width="4.40" height="11.8" fill="#41599b"/>
<rect x="111.7" y="260.20" width="4.20" height="11.8" fill="#41599b"/>
<rect x="130.8" y="260.20" width="4.40" height="11.8" fill="#41599b"/>
<rect x="207.1" y="260.20" width="4.65" height="11.8" fill="#5b9ed9"/>
<rect x="213.25" y="260.20" width="4.65" height="11.8" fill="#5b9ed9"/>
<rect x="86.3" y="258.60" width="69.90" height="15" rx="3" fill="#f0f0f0" fill-opacity="0.9" stroke="#fff" stroke-width="1.1"/>
<line x1="97" y1="259.10" x2="97" y2="273.10" stroke="#fbfbfb" stroke-width="2.4"/>
<line x1="97" y1="259.10" x2="97" y2="273.10" stroke="#dedede" stroke-width="0.7"/>
<line x1="126" y1="259.10" x2="126" y2="273.10" stroke="#fbfbfb" stroke-width="2.4"/>
<line x1="126" y1="259.10" x2="126" y2="273.10" stroke="#dedede" stroke-width="0.7"/>
<line x1="142.3" y1="259.10" x2="142.3" y2="273.10" stroke="#fbfbfb" stroke-width="2.4"/>
<line x1="142.3" y1="259.10" x2="142.3" y2="273.10" stroke="#dedede" stroke-width="0.7"/>
<text x="229.00" y="268.70" font-size="8.2" text-anchor="start" fill="#222" font-weight="normal" font-style="normal" textLength="52.2" lengthAdjust="spacingAndGlyphs" font-family="Liberation Sans">DEL 4 - 7 (29%)</text>
<line x1="10" y1="284.35" x2="224.3" y2="284.35" stroke="#b5b5b5" stroke-width="1"/>
<rect x="13" y="278.45" width="8.75" height="11.8" rx="2" fill="#bfbfbf"/>
<rect x="32" y="278.45" width="8.75" height="11.8" rx="2" fill="#bfbfbf"/>
<rect x="44.5" y="278.45" width="14.50" height="11.8" rx="2" fill="#bfbfbf"/>
<rect x="86.7" y="278.45" width="8.10" height="11.8" rx="2" fill="#bfbfbf"/>
<rect x="99.2" y="278.45" width="22.90" height="11.8" rx="2" fill="#bfbfbf"/>
<rect x="130.1" y="278.45" width="10.60" height="11.8" rx="2" fill="#bfbfbf"/>
<rect x="144.8" y="278.45" width="11.00" height="11.8" rx="2" fill="#bfbfbf"/>
<rect x="175.4" y="278.45" width="46.20" height="11.8" rx="2" fill="#bfbfbf"/>
<rect x="90" y="278.45" width="4.70" height="11.8" fill="#41599b"/>
<rect x="105.2" y="278.45" width="4.40" height="11.8" fill="#41599b"/>
<rect x="111.7" y="278.45" width="4.20" height="11.8" fill="#41599b"/>
<rect x="130.8" y="278.45" width="4.40" height="11.8" fill="#41599b"/>
<rect x="207.1" y="278.45" width="4.65" height="11.8" fill="#5b9ed9"/>
<rect x="213.25" y="278.45" width="4.65" height="11.8" fill="#5b9ed9"/>
<rect x="31.6" y="276.85" width="124.60" height="15" rx="3" fill="#f0f0f0" fill-opacity="0.9" stroke="#fff" stroke-width="1.1"/>
<line x1="42.5" y1="277.35" x2="42.5" y2="291.35" stroke="#fbfbfb" stroke-width="2.4"/>
<line x1="42.5" y1="277.35" x2="42.5" y2="291.35" stroke="#dedede" stroke-width="0.7"/>
<line x1="73.25" y1="277.35" x2="73.25" y2="291.35" stroke="#fbfbfb" stroke-width="2.4"/>
<line x1="73.25" y1="277.35" x2="73.25" y2="291.35" stroke="#dedede" stroke-width="0.7"/>
<line x1="97" y1="277.35" x2="97" y2="291.35" stroke="#fbfbfb" stroke-width="2.4"/>
<line x1="97" y1="277.35" x2="97" y2="291.35" stroke="#dedede" stroke-width="0.7"/>
<line x1="126" y1="277.35" x2="126" y2="291.35" stroke="#fbfbfb" stroke-width="2.4"/>
<line x1="126" y1="277.35" x2="126" y2="291.35" stroke="#dedede" stroke-width="0.7"/>
<line x1="142.3" y1="277.35" x2="142.3" y2="291.35" stroke="#fbfbfb" stroke-width="2.4"/>
<line x1="142.3" y1="277.35" x2="142.3" y2="291.35" stroke="#dedede" stroke-width="0.7"/>
<text x="229.00" y="286.95" font-size="8.2" text-anchor="start" fill="#222" font-weight="normal" font-style="normal" textLength="48.1" lengthAdjust="spacingAndGlyphs" font-family="Liberation Sans">DEL 2 - 7 (4%)</text>
<line x1="10" y1="302.60" x2="224.3" y2="302.60" stroke="#b5b5b5" stroke-width="1"/>
<rect x="13" y="296.70" width="8.75" height="11.8" rx="2" fill="#bfbfbf"/>
<rect x="32" y="296.70" width="8.75" height="11.8" rx="2" fill="#bfbfbf"/>
<rect x="44.5" y="296.70" width="14.50" height="11.8" rx="2" fill="#bfbfbf"/>
<rect x="86.7" y="296.70" width="8.10" height="11.8" rx="2" fill="#bfbfbf"/>
<rect x="99.2" y="296.70" width="22.90" height="11.8" rx="2" fill="#bfbfbf"/>
<rect x="130.1" y="296.70" width="10.60" height="11.8" rx="2" fill="#bfbfbf"/>
<rect x="144.8" y="296.70" width="11.00" height="11.8" rx="2" fill="#bfbfbf"/>
<rect x="175.4" y="296.70" width="46.20" height="11.8" rx="2" fill="#bfbfbf"/>
<rect x="90" y="296.70" width="4.70" height="11.8" fill="#41599b"/>
<rect x="105.2" y="296.70" width="4.40" height="11.8" fill="#41599b"/>
<rect x="111.7" y="296.70" width="4.20" height="11.8" fill="#41599b"/>
<rect x="130.8" y="296.70" width="4.40" height="11.8" fill="#41599b"/>
<rect x="207.1" y="296.70" width="4.65" height="11.8" fill="#5b9ed9"/>
<rect x="213.25" y="296.70" width="4.65" height="11.8" fill="#5b9ed9"/>
<rect x="31.6" y="295.10" width="27.80" height="15" rx="3" fill="#f0f0f0" fill-opacity="0.9" stroke="#fff" stroke-width="1.1"/>
<line x1="42.5" y1="295.60" x2="42.5" y2="309.60" stroke="#fbfbfb" stroke-width="2.4"/>
<line x1="42.5" y1="295.60" x2="42.5" y2="309.60" stroke="#dedede" stroke-width="0.7"/>
<text x="229.00" y="305.20" font-size="8.2" text-anchor="start" fill="#222" font-weight="normal" font-style="normal" textLength="48.1" lengthAdjust="spacingAndGlyphs" font-family="Liberation Sans">DEL 2 - 3 (7%)</text>
<line x1="10" y1="320.85" x2="224.3" y2="320.85" stroke="#b5b5b5" stroke-width="1"/>
<rect x="13" y="314.95" width="8.75" height="11.8" rx="2" fill="#bfbfbf"/>
<rect x="32" y="314.95" width="8.75" height="11.8" rx="2" fill="#bfbfbf"/>
<rect x="44.5" y="314.95" width="14.50" height="11.8" rx="2" fill="#bfbfbf"/>
<rect x="86.7" y="314.95" width="8.10" height="11.8" rx="2" fill="#bfbfbf"/>
<rect x="99.2" y="314.95" width="22.90" height="11.8" rx="2" fill="#bfbfbf"/>
<rect x="130.1" y="314.95" width="10.60" height="11.8" rx="2" fill="#bfbfbf"/>
<rect x="144.8" y="314.95" width="11.00" height="11.8" rx="2" fill="#bfbfbf"/>
<rect x="175.4" y="314.95" width="46.20" height="11.8" rx="2" fill="#bfbfbf"/>
<rect x="90" y="314.95" width="4.70" height="11.8" fill="#41599b"/>
<rect x="105.2" y="314.95" width="4.40" height="11.8" fill="#41599b"/>
<rect x="111.7" y="314.95" width="4.20" height="11.8" fill="#41599b"/>
<rect x="130.8" y="314.95" width="4.40" height="11.8" fill="#41599b"/>
<rect x="207.1" y="314.95" width="4.65" height="11.8" fill="#5b9ed9"/>
<rect x="213.25" y="314.95" width="4.65" height="11.8" fill="#5b9ed9"/>
<rect x="86.3" y="313.35" width="139.20" height="15" rx="3" fill="#f0f0f0" fill-opacity="0.9" stroke="#fff" stroke-width="1.1"/>
<line x1="97" y1="313.85" x2="97" y2="327.85" stroke="#fbfbfb" stroke-width="2.4"/>
<line x1="97" y1="313.85" x2="97" y2="327.85" stroke="#dedede" stroke-width="0.7"/>
<line x1="126" y1="313.85" x2="126" y2="327.85" stroke="#fbfbfb" stroke-width="2.4"/>
<line x1="126" y1="313.85" x2="126" y2="327.85" stroke="#dedede" stroke-width="0.7"/>
<line x1="142.3" y1="313.85" x2="142.3" y2="327.85" stroke="#fbfbfb" stroke-width="2.4"/>
<line x1="142.3" y1="313.85" x2="142.3" y2="327.85" stroke="#dedede" stroke-width="0.7"/>
<line x1="165" y1="313.85" x2="165" y2="327.85" stroke="#fbfbfb" stroke-width="2.4"/>
<line x1="165" y1="313.85" x2="165" y2="327.85" stroke="#dedede" stroke-width="0.7"/>
<text x="229.00" y="323.45" font-size="8.2" text-anchor="start" fill="#222" font-weight="normal" font-style="normal" textLength="52.2" lengthAdjust="spacingAndGlyphs" font-family="Liberation Sans">DEL 4 - 8 (10%)</text>
<line x1="10" y1="339.10" x2="224.3" y2="339.10" stroke="#b5b5b5" stroke-width="1"/>
<rect x="13" y="333.20" width="8.75" height="11.8" rx="2" fill="#bfbfbf"/>
<rect x="32" y="333.20" width="8.75" height="11.8" rx="2" fill="#bfbfbf"/>
<rect x="44.5" y="333.20" width="14.50" height="11.8" rx="2" fill="#bfbfbf"/>
<rect x="86.7" y="333.20" width="8.10" height="11.8" rx="2" fill="#bfbfbf"/>
<rect x="99.2" y="333.20" width="22.90" height="11.8" rx="2" fill="#bfbfbf"/>
<rect x="130.1" y="333.20" width="10.60" height="11.8" rx="2" fill="#bfbfbf"/>
<rect x="144.8" y="333.20" width="11.00" height="11.8" rx="2" fill="#bfbfbf"/>
<rect x="175.4" y="333.20" width="46.20" height="11.8" rx="2" fill="#bfbfbf"/>
<rect x="90" y="333.20" width="4.70" height="11.8" fill="#41599b"/>
<rect x="105.2" y="333.20" width="4.40" height="11.8" fill="#41599b"/>
<rect x="111.7" y="333.20" width="4.20" height="11.8" fill="#41599b"/>
<rect x="130.8" y="333.20" width="4.40" height="11.8" fill="#41599b"/>
<rect x="207.1" y="333.20" width="4.65" height="11.8" fill="#5b9ed9"/>
<rect x="213.25" y="333.20" width="4.65" height="11.8" fill="#5b9ed9"/>
<rect x="31.6" y="331.60" width="193.90" height="15" rx="3" fill="#f0f0f0" fill-opacity="0.9" stroke="#fff" stroke-width="1.1"/>
<line x1="42.5" y1="332.10" x2="42.5" y2="346.10" stroke="#fbfbfb" stroke-width="2.4"/>
<line x1="42.5" y1="332.10" x2="42.5" y2="346.10" stroke="#dedede" stroke-width="0.7"/>
<line x1="73.25" y1="332.10" x2="73.25" y2="346.10" stroke="#fbfbfb" stroke-width="2.4"/>
<line x1="73.25" y1="332.10" x2="73.25" y2="346.10" stroke="#dedede" stroke-width="0.7"/>
<line x1="97" y1="332.10" x2="97" y2="346.10" stroke="#fbfbfb" stroke-width="2.4"/>
<line x1="97" y1="332.10" x2="97" y2="346.10" stroke="#dedede" stroke-width="0.7"/>
<line x1="126" y1="332.10" x2="126" y2="346.10" stroke="#fbfbfb" stroke-width="2.4"/>
<line x1="126" y1="332.10" x2="126" y2="346.10" stroke="#dedede" stroke-width="0.7"/>
<line x1="142.3" y1="332.10" x2="142.3" y2="346.10" stroke="#fbfbfb" stroke-width="2.4"/>
<line x1="142.3" y1="332.10" x2="142.3" y2="346.10" stroke="#dedede" stroke-width="0.7"/>
<line x1="165" y1="332.10" x2="165" y2="346.10" stroke="#fbfbfb" stroke-width="2.4"/>
<line x1="165" y1="332.10" x2="165" y2="346.10" stroke="#dedede" stroke-width="0.7"/>
<text x="229.00" y="341.70" font-size="8.2" text-anchor="start" fill="#222" font-weight="normal" font-style="normal" textLength="48.2" lengthAdjust="spacingAndGlyphs" font-family="Liberation Sans">DEL 2 - 8 (6%)</text>
<line x1="10" y1="357.35" x2="224.3" y2="357.35" stroke="#b5b5b5" stroke-width="1"/>
<rect x="13" y="351.45" width="8.75" height="11.8" rx="2" fill="#bfbfbf"/>
<rect x="32" y="351.45" width="8.75" height="11.8" rx="2" fill="#bfbfbf"/>
<rect x="44.5" y="351.45" width="14.50" height="11.8" rx="2" fill="#bfbfbf"/>
<rect x="86.7" y="351.45" width="8.10" height="11.8" rx="2" fill="#bfbfbf"/>
<rect x="99.2" y="351.45" width="22.90" height="11.8" rx="2" fill="#bfbfbf"/>
<rect x="130.1" y="351.45" width="10.60" height="11.8" rx="2" fill="#bfbfbf"/>
<rect x="144.8" y="351.45" width="11.00" height="11.8" rx="2" fill="#bfbfbf"/>
<rect x="175.4" y="351.45" width="46.20" height="11.8" rx="2" fill="#bfbfbf"/>
<rect x="90" y="351.45" width="4.70" height="11.8" fill="#41599b"/>
<rect x="105.2" y="351.45" width="4.40" height="11.8" fill="#41599b"/>
<rect x="111.7" y="351.45" width="4.20" height="11.8" fill="#41599b"/>
<rect x="130.8" y="351.45" width="4.40" height="11.8" fill="#41599b"/>
<rect x="207.1" y="351.45" width="4.65" height="11.8" fill="#5b9ed9"/>
<rect x="213.25" y="351.45" width="4.65" height="11.8" fill="#5b9ed9"/>
<rect x="9.0" y="349.85" width="13.15" height="15" rx="3" fill="#f0f0f0" fill-opacity="0.9" stroke="#fff" stroke-width="1.1"/>
<text x="229.00" y="359.95" font-size="8.2" text-anchor="start" fill="#222" font-weight="normal" font-style="normal" textLength="37.2" lengthAdjust="spacingAndGlyphs" font-family="Liberation Sans">DEL 1 (5%)</text>
<text x="229.00" y="378.20" font-size="8.2" text-anchor="start" fill="#222" font-weight="normal" font-style="normal" textLength="51.0" lengthAdjust="spacingAndGlyphs" font-family="Liberation Sans">other DEL (6%)</text>
<rect x="89" y="389.7" width="43.3" height="3.4" fill="#41599b"/>
<rect x="201.5" y="389.7" width="19.7" height="3.4" fill="#5b9ed9"/>
<text x="111.15" y="405.00" font-size="8.0" text-anchor="middle" fill="#41599b" font-weight="normal" font-style="normal" textLength="34.4" lengthAdjust="spacingAndGlyphs" font-family="Liberation Sans">zinc finger</text>
<text x="111.15" y="414.00" font-size="8.0" text-anchor="middle" fill="#41599b" font-weight="normal" font-style="normal" textLength="44.8" lengthAdjust="spacingAndGlyphs" font-family="Liberation Sans">DNA-binding</text>
<text x="211.20" y="405.00" font-size="8.0" text-anchor="middle" fill="#5b9ed9" font-weight="normal" font-style="normal" textLength="35" lengthAdjust="spacingAndGlyphs" font-family="Liberation Sans">zinc finger</text>
<text x="211.55" y="414.00" font-size="8.0" text-anchor="middle" fill="#5b9ed9" font-weight="normal" font-style="normal" textLength="41.3" lengthAdjust="spacingAndGlyphs" font-family="Liberation Sans">dimerization</text>
<path d="M404.50,219.20 A81.8,81.8 0 0 1 443.28,228.98 L438.87,237.17 A72.5,72.5 0 0 0 404.50,228.50 Z" fill="#a6150f"/>
<path d="M443.28,228.98 A81.8,81.8 0 0 1 472.79,255.97 L465.03,261.09 A72.5,72.5 0 0 0 438.87,237.17 Z" fill="#a9300f"/>
<path d="M472.79,255.97 A81.8,81.8 0 0 1 484.90,285.95 L475.76,287.66 A72.5,72.5 0 0 0 465.03,261.09 Z" fill="#ad5311"/>
<path d="M484.90,285.95 A81.8,81.8 0 0 1 484.71,317.03 L475.59,315.21 A72.5,72.5 0 0 0 475.76,287.66 Z" fill="#a87b0d"/>
<path d="M484.71,317.03 A81.8,81.8 0 0 1 473.95,344.23 L466.05,339.31 A72.5,72.5 0 0 0 475.59,315.21 Z" fill="#aaa41c"/>
<path d="M473.95,344.23 A81.8,81.8 0 0 1 455.20,365.19 L449.43,357.90 A72.5,72.5 0 0 0 466.05,339.31 Z" fill="#8ba82c"/>
<path d="M455.20,365.19 A81.8,81.8 0 0 1 432.07,378.01 L428.94,369.26 A72.5,72.5 0 0 0 449.43,357.90 Z" fill="#5ba936"/>
<path d="M432.07,378.01 A81.8,81.8 0 0 1 409.07,382.67 L408.55,373.39 A72.5,72.5 0 0 0 428.94,369.26 Z" fill="#48a43d"/>
<path d="M409.07,382.67 A81.8,81.8 0 0 1 385.96,380.67 L388.07,371.61 A72.5,72.5 0 0 0 408.55,373.39 Z" fill="#3fa240"/>
<path d="M385.96,380.67 A81.8,81.8 0 0 1 365.47,372.89 L369.91,364.71 A72.5,72.5 0 0 0 388.07,371.61 Z" fill="#30a247"/>
<path d="M365.47,372.89 A81.8,81.8 0 0 1 347.47,359.64 L353.96,352.98 A72.5,72.5 0 0 0 369.91,364.71 Z" fill="#21a257"/>
<path d="M347.47,359.64 A81.8,81.8 0 0 1 333.38,341.40 L341.46,336.81 A72.5,72.5 0 0 0 353.96,352.98 Z" fill="#12a5a0"/>
<path d="M333.38,341.40 A81.8,81.8 0 0 1 326.23,324.78 L335.13,322.08 A72.5,72.5 0 0 0 341.46,336.81 Z" fill="#1788a8"/>
<path d="M326.23,324.78 A81.8,81.8 0 0 1 322.98,307.70 L332.24,306.94 A72.5,72.5 0 0 0 335.13,322.08 Z" fill="#214e9a"/>
<path d="M322.98,307.70 A81.8,81.8 0 0 1 323.40,290.32 L332.62,291.54 A72.5,72.5 0 0 0 332.24,306.94 Z" fill="#35309d"/>
<path d="M323.40,290.32 A81.8,81.8 0 0 1 326.70,275.72 L335.55,278.60 A72.5,72.5 0 0 0 332.62,291.54 Z" fill="#3c2e9f"/>
<path d="M326.70,275.72 A81.8,81.8 0 0 1 331.94,263.23 L340.19,267.52 A72.5,72.5 0 0 0 335.55,278.60 Z" fill="#482ca1"/>
<path d="M331.94,263.23 A81.8,81.8 0 0 1 339.17,251.77 L346.60,257.37 A72.5,72.5 0 0 0 340.19,267.52 Z" fill="#5b2aa1"/>
<path d="M339.17,251.77 A81.8,81.8 0 0 1 345.86,243.97 L352.52,250.46 A72.5,72.5 0 0 0 346.60,257.37 Z" fill="#7123a1"/>
<path d="M345.86,243.97 A81.8,81.8 0 0 1 353.58,236.98 L359.37,244.26 A72.5,72.5 0 0 0 352.52,250.46 Z" fill="#8421a1"/>
<path d="M353.58,236.98 A81.8,81.8 0 0 1 359.95,232.40 L365.01,240.20 A72.5,72.5 0 0 0 359.37,244.26 Z" fill="#9a1ca1"/>
<path d="M359.95,232.40 A81.8,81.8 0 0 1 368.13,227.73 L372.26,236.06 A72.5,72.5 0 0 0 365.01,240.20 Z" fill="#ab189e"/>
<path d="M368.13,227.73 A81.8,81.8 0 0 1 394.39,219.83 L395.54,229.06 A72.5,72.5 0 0 0 372.26,236.06 Z" fill="#ae106c"/>
<path d="M394.39,219.83 A81.8,81.8 0 0 1 404.50,219.20 L404.50,228.50 A72.5,72.5 0 0 0 395.54,229.06 Z" fill="#b01536"/>
<line x1="404.50" y1="219.20" x2="404.50" y2="228.50" stroke="#101018" stroke-opacity="0.8" stroke-width="0.9"/>
<line x1="443.28" y1="228.98" x2="438.87" y2="237.17" stroke="#101018" stroke-opacity="0.8" stroke-width="0.9"/>
<line x1="472.79" y1="255.97" x2="465.03" y2="261.09" stroke="#101018" stroke-opacity="0.8" stroke-width="0.9"/>
<line x1="484.90" y1="285.95" x2="475.76" y2="287.66" stroke="#101018" stroke-opacity="0.8" stroke-width="0.9"/>
<line x1="484.71" y1="317.03" x2="475.59" y2="315.21" stroke="#101018" stroke-opacity="0.8" stroke-width="0.9"/>
<line x1="473.95" y1="344.23" x2="466.05" y2="339.31" stroke="#101018" stroke-opacity="0.8" stroke-width="0.9"/>
<line x1="455.20" y1="365.19" x2="449.43" y2="357.90" stroke="#101018" stroke-opacity="0.8" stroke-width="0.9"/>
<line x1="432.07" y1="378.01" x2="428.94" y2="369.26" stroke="#101018" stroke-opacity="0.8" stroke-width="0.9"/>
<line x1="409.07" y1="382.67" x2="408.55" y2="373.39" stroke="#101018" stroke-opacity="0.8" stroke-width="0.9"/>
<line x1="385.96" y1="380.67" x2="388.07" y2="371.61" stroke="#101018" stroke-opacity="0.8" stroke-width="0.9"/>
<line x1="365.47" y1="372.89" x2="369.91" y2="364.71" stroke="#101018" stroke-opacity="0.8" stroke-width="0.9"/>
<line x1="347.47" y1="359.64" x2="353.96" y2="352.98" stroke="#101018" stroke-opacity="0.8" stroke-width="0.9"/>
<line x1="333.38" y1="341.40" x2="341.46" y2="336.81" stroke="#101018" stroke-opacity="0.8" stroke-width="0.9"/>
<line x1="326.23" y1="324.78" x2="335.13" y2="322.08" stroke="#101018" stroke-opacity="0.8" stroke-width="0.9"/>
<line x1="322.98" y1="307.70" x2="332.24" y2="306.94" stroke="#101018" stroke-opacity="0.8" stroke-width="0.9"/>
<line x1="323.40" y1="290.32" x2="332.62" y2="291.54" stroke="#101018" stroke-opacity="0.8" stroke-width="0.9"/>
<line x1="326.70" y1="275.72" x2="335.55" y2="278.60" stroke="#101018" stroke-opacity="0.8" stroke-width="0.9"/>
<line x1="331.94" y1="263.23" x2="340.19" y2="267.52" stroke="#101018" stroke-opacity="0.8" stroke-width="0.9"/>
<line x1="339.17" y1="251.77" x2="346.60" y2="257.37" stroke="#101018" stroke-opacity="0.8" stroke-width="0.9"/>
<line x1="345.86" y1="243.97" x2="352.52" y2="250.46" stroke="#101018" stroke-opacity="0.8" stroke-width="0.9"/>
<line x1="353.58" y1="236.98" x2="359.37" y2="244.26" stroke="#101018" stroke-opacity="0.8" stroke-width="0.9"/>
<line x1="359.95" y1="232.40" x2="365.01" y2="240.20" stroke="#101018" stroke-opacity="0.8" stroke-width="0.9"/>
<line x1="368.13" y1="227.73" x2="372.26" y2="236.06" stroke="#101018" stroke-opacity="0.8" stroke-width="0.9"/>
<line x1="394.39" y1="219.83" x2="395.54" y2="229.06" stroke="#101018" stroke-opacity="0.8" stroke-width="0.9"/>
<text x="423.52" y="227.56" font-size="5.7" text-anchor="middle" fill="#ffffff" font-weight="normal" font-style="normal" font-family="Liberation Sans" fill-opacity="0.88">1</text>
<text x="457.01" y="245.59" font-size="5.7" text-anchor="middle" fill="#ffffff" font-weight="normal" font-style="normal" font-family="Liberation Sans" fill-opacity="0.88">2</text>
<text x="476.63" y="273.86" font-size="5.7" text-anchor="middle" fill="#ffffff" font-weight="normal" font-style="normal" font-family="Liberation Sans" fill-opacity="0.88">3</text>
<text x="482.30" y="303.48" font-size="5.7" text-anchor="middle" fill="#ffffff" font-weight="normal" font-style="normal" font-family="Liberation Sans" fill-opacity="0.88">4</text>
<text x="476.84" y="331.64" font-size="5.7" text-anchor="middle" fill="#ffffff" font-weight="normal" font-style="normal" font-family="Liberation Sans" fill-opacity="0.88">5</text>
<text x="462.50" y="354.86" font-size="5.7" text-anchor="middle" fill="#ffffff" font-weight="normal" font-style="normal" font-family="Liberation Sans" fill-opacity="0.88">6</text>
<text x="442.22" y="371.05" font-size="5.7" text-anchor="middle" fill="#ffffff" font-weight="normal" font-style="normal" font-family="Liberation Sans" fill-opacity="0.88">7</text>
<text x="419.94" y="379.25" font-size="5.7" text-anchor="middle" fill="#ffffff" font-weight="normal" font-style="normal" font-family="Liberation Sans" fill-opacity="0.88">8</text>
<text x="397.79" y="380.51" font-size="5.7" text-anchor="middle" fill="#ffffff" font-weight="normal" font-style="normal" font-family="Liberation Sans" fill-opacity="0.88">9</text>
<text x="376.87" y="375.73" font-size="5.7" text-anchor="middle" fill="#ffffff" font-weight="normal" font-style="normal" font-family="Liberation Sans" fill-opacity="0.88">10</text>
<text x="358.39" y="365.66" font-size="5.7" text-anchor="middle" fill="#ffffff" font-weight="normal" font-style="normal" font-family="Liberation Sans" fill-opacity="0.88">11</text>
<text x="342.94" y="350.58" font-size="5.7" text-anchor="middle" fill="#ffffff" font-weight="normal" font-style="normal" font-family="Liberation Sans" fill-opacity="0.88">12</text>
<text x="333.02" y="333.71" font-size="5.7" text-anchor="middle" fill="#ffffff" font-weight="normal" font-style="normal" font-family="Liberation Sans" fill-opacity="0.88">13</text>
<text x="328.08" y="317.58" font-size="5.7" text-anchor="middle" fill="#ffffff" font-weight="normal" font-style="normal" font-family="Liberation Sans" fill-opacity="0.88">14</text>
<text x="326.72" y="301.10" font-size="5.7" text-anchor="middle" fill="#ffffff" font-weight="normal" font-style="normal" font-family="Liberation Sans" fill-opacity="0.88">15</text>
<text x="328.62" y="285.83" font-size="5.7" text-anchor="middle" fill="#ffffff" font-weight="normal" font-style="normal" font-family="Liberation Sans" fill-opacity="0.88">16</text>
<text x="332.75" y="272.91" font-size="5.7" text-anchor="middle" fill="#ffffff" font-weight="normal" font-style="normal" font-family="Liberation Sans" fill-opacity="0.88">17</text>
<text x="338.70" y="261.48" font-size="5.7" text-anchor="middle" fill="#ffffff" font-weight="normal" font-style="normal" font-family="Liberation Sans" fill-opacity="0.88">18</text>
<text x="345.43" y="252.37" font-size="5.7" text-anchor="middle" fill="#ffffff" font-weight="normal" font-style="normal" font-family="Liberation Sans" fill-opacity="0.88">19</text>
<text x="352.29" y="245.32" font-size="5.7" text-anchor="middle" fill="#ffffff" font-weight="normal" font-style="normal" font-family="Liberation Sans" fill-opacity="0.88">20</text>
<text x="359.05" y="239.86" font-size="5.7" text-anchor="middle" fill="#ffffff" font-weight="normal" font-style="normal" font-family="Liberation Sans" fill-opacity="0.88">21</text>
<text x="365.95" y="235.42" font-size="5.7" text-anchor="middle" fill="#ffffff" font-weight="normal" font-style="normal" font-family="Liberation Sans" fill-opacity="0.88">22</text>
<text x="382.08" y="228.50" font-size="5.7" text-anchor="middle" fill="#ffffff" font-weight="normal" font-style="normal" font-family="Liberation Sans" fill-opacity="0.88">X</text>
<text x="399.68" y="225.35" font-size="5.7" text-anchor="middle" fill="#ffffff" font-weight="normal" font-style="normal" font-family="Liberation Sans" fill-opacity="0.88">Y</text>
<circle cx="404.5" cy="301.0" r="82.5" fill="none" stroke="#36558f" stroke-width="2.0"/>
<circle cx="404.5" cy="301.0" r="71.3" fill="none" stroke="#36558f" stroke-width="2.5"/>
<path d="M340.50,271.00 C343.75,269.33 354.25,263.10 360.00,261.00 C365.75,258.90 370.00,258.57 375.00,258.40 C380.00,258.23 385.50,258.82 390.00,260.00 C394.50,261.18 398.17,263.25 402.00,265.50 C405.83,267.75 409.17,270.08 413.00,273.50 C416.83,276.92 421.33,281.25 425.00,286.00 C428.67,290.75 432.43,296.17 435.00,302.00 C437.57,307.83 439.30,313.83 440.40,321.00 C441.50,328.17 441.67,338.33 441.60,345.00 C441.53,351.67 440.27,358.33 440.00,361.00" fill="none" stroke="#7489c1" stroke-width="0.75"/>
<path d="M334.30,300.50 C336.92,299.95 344.78,297.95 350.00,297.20 C355.22,296.45 360.93,296.03 365.60,296.00 C370.27,295.97 373.93,296.38 378.00,297.00 C382.07,297.62 386.13,298.47 390.00,299.75 C393.87,301.03 397.22,302.47 401.20,304.70 C405.18,306.93 409.92,309.60 413.90,313.10 C417.88,316.60 421.83,321.22 425.10,325.70 C428.37,330.18 431.10,334.12 433.50,340.00 C435.90,345.88 438.50,357.50 439.50,361.00" fill="none" stroke="#7489c1" stroke-width="0.75"/>
<path d="M348.50,344.00 C350.42,343.72 356.08,342.60 360.00,342.30 C363.92,342.00 366.33,341.70 372.00,342.20 C377.67,342.70 386.00,343.58 394.00,345.30 C402.00,347.02 412.50,349.80 420.00,352.50 C427.50,355.20 435.83,360.00 439.00,361.50" fill="none" stroke="#7489c1" stroke-width="0.75"/>
<path d="M468.80,273.30 C466.55,276.47 459.10,285.85 455.30,292.30 C451.50,298.75 448.28,304.88 446.00,312.00 C443.72,319.12 442.57,326.83 441.60,335.00 C440.63,343.17 440.43,356.67 440.20,361.00" fill="none" stroke="#7489c1" stroke-width="0.75"/>
<path d="M439.00,362.00 C437.77,361.42 435.77,361.17 431.60,358.50 C427.43,355.83 418.35,350.25 414.00,346.00 C409.65,341.75 407.58,337.00 405.50,333.00 C403.42,329.00 402.32,326.17 401.50,322.00 C400.68,317.83 400.35,311.67 400.60,308.00 C400.85,304.33 401.60,302.08 403.00,300.00 C404.40,297.92 406.50,296.33 409.00,295.50 C411.50,294.67 414.83,294.33 418.00,295.00 C421.17,295.67 425.08,296.83 428.00,299.50 C430.92,302.17 433.58,306.75 435.50,311.00 C437.42,315.25 438.58,320.17 439.50,325.00 C440.42,329.83 440.88,334.00 441.00,340.00 C441.12,346.00 440.33,357.50 440.20,361.00" fill="none" stroke="#7489c1" stroke-width="0.75"/>
<path d="M474.30,300.00 C472.25,299.25 466.05,296.83 462.00,295.50 C457.95,294.17 453.93,292.95 450.00,292.00 C446.07,291.05 442.07,290.23 438.40,289.80 C434.73,289.37 431.40,289.27 428.00,289.40 C424.60,289.53 421.00,289.83 418.00,290.60 C415.00,291.37 412.67,292.18 410.00,294.00 C407.33,295.82 404.20,298.33 402.00,301.50 C399.80,304.67 398.13,308.75 396.80,313.00 C395.47,317.25 394.53,321.67 394.00,327.00 C393.47,332.33 393.35,339.50 393.60,345.00 C393.85,350.50 394.63,355.57 395.50,360.00 C396.37,364.43 398.25,369.67 398.80,371.60" fill="none" stroke="#7489c1" stroke-width="0.75"/>
<path d="M438.30,360.80 C435.75,355.67 427.30,339.13 423.00,330.00 C418.70,320.87 415.00,311.50 412.50,306.00 C410.00,300.50 408.75,298.50 408.00,297.00" fill="none" stroke="#2c4487" stroke-width="1.35"/>
<path d="M408.00,297.00 C408.67,297.75 410.33,299.33 412.00,301.50 C413.67,303.67 415.90,306.35 418.00,310.00 C420.10,313.65 422.27,318.40 424.60,323.40 C426.93,328.40 430.02,335.40 432.00,340.00 C433.98,344.60 435.25,347.67 436.50,351.00 C437.75,354.33 439.00,358.50 439.50,360.00" fill="none" stroke="#2c4487" stroke-width="1.35"/>
<text x="422.00" y="215.00" font-size="6.7" text-anchor="start" fill="#222" font-weight="normal" font-style="italic" textLength="25.8" lengthAdjust="spacingAndGlyphs" font-family="Liberation Sans">DNAH14</text>
<text x="467.00" y="237.90" font-size="6.7" text-anchor="start" fill="#222" font-weight="normal" font-style="italic" textLength="15" lengthAdjust="spacingAndGlyphs" font-family="Liberation Sans">ZEB2</text>
<text x="487.00" y="269.10" font-size="6.7" text-anchor="start" fill="#222" font-weight="normal" font-style="italic" textLength="18.8" lengthAdjust="spacingAndGlyphs" font-family="Liberation Sans">SETD5</text>
<text x="495.30" y="304.90" font-size="6.7" text-anchor="start" fill="#222" font-weight="normal" font-style="italic" textLength="17.5" lengthAdjust="spacingAndGlyphs" font-family="Liberation Sans">STIM2</text>
<text x="302.00" y="268.10" font-size="6.7" text-anchor="start" fill="#222" font-weight="normal" font-style="italic" textLength="18.7" lengthAdjust="spacingAndGlyphs" font-family="Liberation Sans">TRPV2</text>
<text x="292.30" y="302.90" font-size="6.7" text-anchor="start" fill="#222" font-weight="normal" font-style="italic" textLength="22" lengthAdjust="spacingAndGlyphs" font-family="Liberation Sans">NUTM1</text>
<text x="317.80" y="357.10" font-size="6.7" text-anchor="start" fill="#222" font-weight="normal" font-style="italic" textLength="17" lengthAdjust="spacingAndGlyphs" font-family="Liberation Sans">CDK2</text>
<text x="317.80" y="365.30" font-size="6.7" text-anchor="start" fill="#222" font-weight="normal" font-style="italic" textLength="15" lengthAdjust="spacingAndGlyphs" font-family="Liberation Sans">ETV6</text>
<text x="387.30" y="396.80" font-size="6.7" text-anchor="start" fill="#222" font-weight="normal" font-style="italic" textLength="26.1" lengthAdjust="spacingAndGlyphs" font-family="Liberation Sans">NOTCH1</text>
<text x="450.30" y="395.60" font-size="6.7" text-anchor="start" fill="#222" font-weight="normal" font-style="italic" textLength="16.7" lengthAdjust="spacingAndGlyphs" font-family="Liberation Sans">TYW1</text>
<text x="450.30" y="403.30" font-size="6.7" text-anchor="start" fill="#222" font-weight="normal" font-style="italic" textLength="21.2" lengthAdjust="spacingAndGlyphs" font-family="Liberation Sans">FIGNL1</text>
<text x="450.30" y="411.10" font-size="6.7" text-anchor="start" fill="#222" font-weight="normal" font-style="italic" textLength="24.7" lengthAdjust="spacingAndGlyphs" font-family="Liberation Sans">ABCA13</text>
<text x="450.30" y="418.80" font-size="6.7" text-anchor="start" fill="#222" font-weight="normal" font-style="italic" textLength="16.7" lengthAdjust="spacingAndGlyphs" font-family="Liberation Sans">COBL</text>
<text x="448.00" y="386.30" font-size="6.9" text-anchor="start" fill="#111" font-weight="bold" font-style="italic" textLength="17.8" lengthAdjust="spacingAndGlyphs" font-family="Liberation Sans">IKZF1</text>
<rect x="0.5" y="0.5" width="519" height="426" fill="none" stroke="#000" stroke-width="1"/>
</svg></body></html>
